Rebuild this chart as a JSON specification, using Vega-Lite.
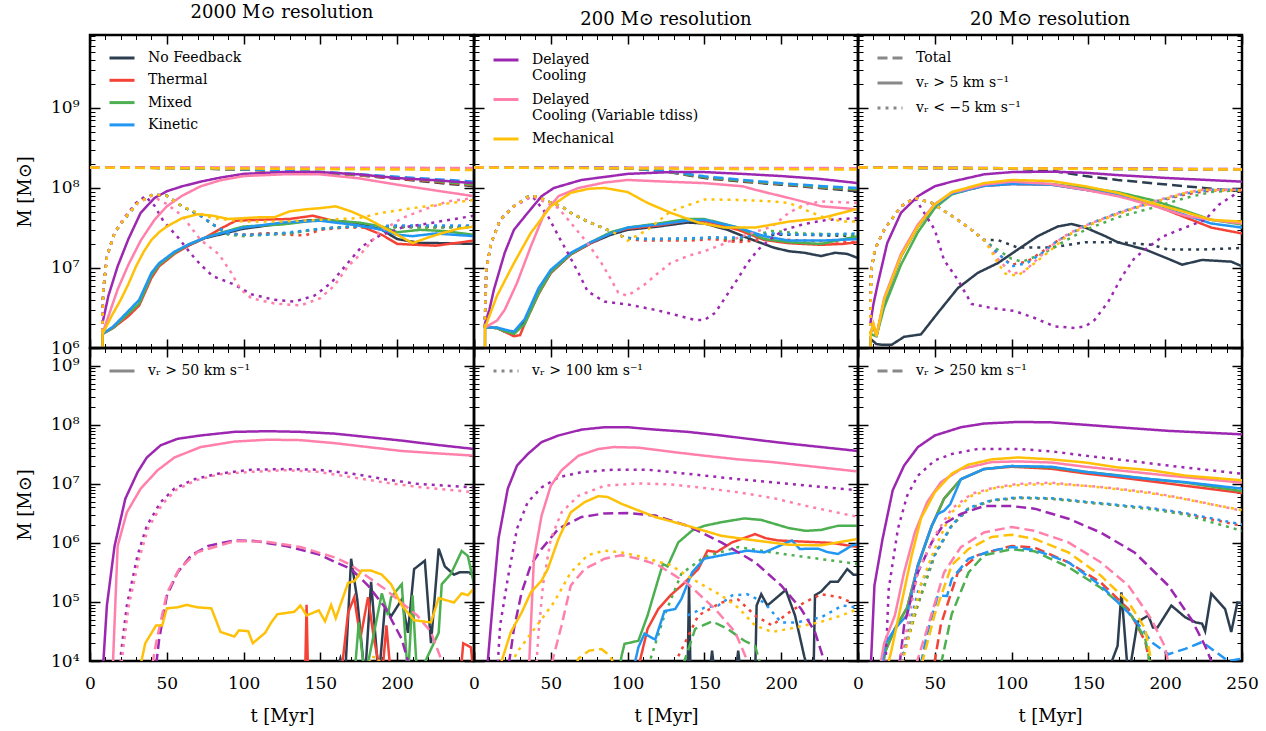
{
"$schema":"https://vega.github.io/schema/vega-lite/v6.json",
"padding":{"left":15,"top":2,"right":5,"bottom":5},
"config":{"font":"DejaVu Serif","view":{"stroke":"black","strokeWidth":2.5},
"axis":{"domain":false,"grid":false,"tickColor":"black","labelFont":"DejaVu Serif","labelFontSize":17,"labelColor":"black","titleFont":"DejaVu Serif","titleFontSize":18,"titleFontWeight":"normal","titleColor":"black","labelOverlap":false,"labelFlush":false},
"axisX":{"labelPadding":23,"titlePadding":12},
"axisY":{"labelPadding":21,"titlePadding":16},
"legend":{"labelFont":"DejaVu Serif","labelFontSize":14,"labelColor":"black","labelLimit":400,"symbolType":"stroke","symbolSize":625,"symbolStrokeWidth":3,"symbolOpacity":1,"labelOffset":12,"rowPadding":1.3}},
"datasets":{
"A":[
{"k":"Ne","t":0,"M":1.8e8},{"k":"Ne","t":50,"M":1.78e8},{"k":"Ne","t":100,"M":1.7e8},{"k":"Ne","t":150,"M":1.55e8},{"k":"Ne","t":175,"M":1.45e8},{"k":"Ne","t":200,"M":1.3e8},{"k":"Ne","t":225,"M":1.17e8},{"k":"Ne","t":250,"M":1.05e8},
{"k":"Ns","t":8,"M":1e5},{"k":"Ns","t":8.2,"M":1.5e6},{"k":"Ns","t":15,"M":1.78e6},{"k":"Ns","t":25,"M":2.6e6},{"k":"Ns","t":32,"M":3.5e6},{"k":"Ns","t":40,"M":7.9e6},{"k":"Ns","t":45,"M":1.1e7},{"k":"Ns","t":55,"M":1.55e7},{"k":"Ns","t":65,"M":1.95e7},{"k":"Ns","t":75,"M":2.37e7},{"k":"Ns","t":85,"M":2.63e7},{"k":"Ns","t":100,"M":3.1e7},{"k":"Ns","t":125,"M":3.6e7},{"k":"Ns","t":140,"M":3.9e7},{"k":"Ns","t":150,"M":4e7},{"k":"Ns","t":165,"M":3.8e7},{"k":"Ns","t":175,"M":3.6e7},{"k":"Ns","t":190,"M":3e7},{"k":"Ns","t":200,"M":2.3e7},{"k":"Ns","t":215,"M":2.05e7},{"k":"Ns","t":225,"M":2.05e7},{"k":"Ns","t":250,"M":2e7},
{"k":"Nd","t":8,"M":1.6e6},{"k":"Nd","t":8.5,"M":4.9e6},{"k":"Nd","t":11,"M":1.4e7},{"k":"Nd","t":16,"M":2.75e7},{"k":"Nd","t":22,"M":4e7},{"k":"Nd","t":31,"M":6.5e7},{"k":"Nd","t":41,"M":8.3e7},{"k":"Nd","t":50,"M":8e7},{"k":"Nd","t":60,"M":5.9e7},{"k":"Nd","t":72,"M":4.5e7},{"k":"Nd","t":80,"M":3.5e7},{"k":"Nd","t":90,"M":2.7e7},{"k":"Nd","t":100,"M":2.6e7},{"k":"Nd","t":115,"M":2.7e7},{"k":"Nd","t":130,"M":2.7e7},{"k":"Nd","t":145,"M":3e7},{"k":"Nd","t":160,"M":3.2e7},{"k":"Nd","t":180,"M":3.3e7},{"k":"Nd","t":200,"M":3.3e7},{"k":"Nd","t":225,"M":3.3e7},{"k":"Nd","t":250,"M":3.3e7},
{"k":"Te","t":0,"M":1.8e8},{"k":"Te","t":50,"M":1.78e8},{"k":"Te","t":100,"M":1.7e8},{"k":"Te","t":150,"M":1.56e8},{"k":"Te","t":200,"M":1.32e8},{"k":"Te","t":250,"M":1.08e8},
{"k":"Ts","t":8,"M":1.5e6},{"k":"Ts","t":15,"M":1.78e6},{"k":"Ts","t":25,"M":2.5e6},{"k":"Ts","t":32,"M":3.4e6},{"k":"Ts","t":40,"M":7.5e6},{"k":"Ts","t":45,"M":1.05e7},{"k":"Ts","t":55,"M":1.5e7},{"k":"Ts","t":65,"M":1.95e7},{"k":"Ts","t":75,"M":2.4e7},{"k":"Ts","t":85,"M":3.1e7},{"k":"Ts","t":95,"M":3.9e7},{"k":"Ts","t":110,"M":4e7},{"k":"Ts","t":130,"M":4.1e7},{"k":"Ts","t":145,"M":4.5e7},{"k":"Ts","t":160,"M":3.8e7},{"k":"Ts","t":175,"M":3.4e7},{"k":"Ts","t":190,"M":2.6e7},{"k":"Ts","t":200,"M":2e7},{"k":"Ts","t":225,"M":1.9e7},{"k":"Ts","t":250,"M":2.2e7},
{"k":"Td","t":8,"M":1.6e6},{"k":"Td","t":8.5,"M":4.9e6},{"k":"Td","t":11,"M":1.4e7},{"k":"Td","t":16,"M":2.75e7},{"k":"Td","t":22,"M":4e7},{"k":"Td","t":31,"M":6.5e7},{"k":"Td","t":41,"M":8.3e7},{"k":"Td","t":50,"M":8e7},{"k":"Td","t":60,"M":5.9e7},{"k":"Td","t":72,"M":4.5e7},{"k":"Td","t":80,"M":3.5e7},{"k":"Td","t":90,"M":2.7e7},{"k":"Td","t":100,"M":2.6e7},{"k":"Td","t":115,"M":2.7e7},{"k":"Td","t":130,"M":2.6e7},{"k":"Td","t":140,"M":2.55e7},{"k":"Td","t":150,"M":3e7},{"k":"Td","t":165,"M":3.2e7},{"k":"Td","t":180,"M":3.2e7},{"k":"Td","t":200,"M":3.3e7},{"k":"Td","t":225,"M":3.2e7},{"k":"Td","t":250,"M":3.3e7},
{"k":"Xe","t":0,"M":1.8e8},{"k":"Xe","t":50,"M":1.78e8},{"k":"Xe","t":100,"M":1.71e8},{"k":"Xe","t":150,"M":1.57e8},{"k":"Xe","t":200,"M":1.35e8},{"k":"Xe","t":250,"M":1.1e8},
{"k":"Xs","t":8,"M":1.5e6},{"k":"Xs","t":15,"M":1.8e6},{"k":"Xs","t":25,"M":2.7e6},{"k":"Xs","t":32,"M":3.6e6},{"k":"Xs","t":40,"M":8.1e6},{"k":"Xs","t":45,"M":1.1e7},{"k":"Xs","t":55,"M":1.55e7},{"k":"Xs","t":65,"M":2e7},{"k":"Xs","t":75,"M":2.4e7},{"k":"Xs","t":85,"M":2.75e7},{"k":"Xs","t":100,"M":3.3e7},{"k":"Xs","t":125,"M":3.5e7},{"k":"Xs","t":150,"M":4e7},{"k":"Xs","t":175,"M":3.7e7},{"k":"Xs","t":190,"M":3.3e7},{"k":"Xs","t":200,"M":2.8e7},{"k":"Xs","t":215,"M":3e7},{"k":"Xs","t":230,"M":2.9e7},{"k":"Xs","t":250,"M":2.6e7},
{"k":"Xd","t":8,"M":1.6e6},{"k":"Xd","t":8.5,"M":4.9e6},{"k":"Xd","t":11,"M":1.4e7},{"k":"Xd","t":16,"M":2.75e7},{"k":"Xd","t":22,"M":4e7},{"k":"Xd","t":31,"M":6.5e7},{"k":"Xd","t":41,"M":8.3e7},{"k":"Xd","t":50,"M":8e7},{"k":"Xd","t":60,"M":5.9e7},{"k":"Xd","t":72,"M":4.5e7},{"k":"Xd","t":80,"M":3.5e7},{"k":"Xd","t":90,"M":2.6e7},{"k":"Xd","t":100,"M":2.5e7},{"k":"Xd","t":115,"M":2.6e7},{"k":"Xd","t":130,"M":2.7e7},{"k":"Xd","t":150,"M":3.1e7},{"k":"Xd","t":170,"M":3.3e7},{"k":"Xd","t":200,"M":3.2e7},{"k":"Xd","t":225,"M":3.2e7},{"k":"Xd","t":250,"M":3.2e7},
{"k":"Ke","t":0,"M":1.8e8},{"k":"Ke","t":50,"M":1.79e8},{"k":"Ke","t":100,"M":1.72e8},{"k":"Ke","t":150,"M":1.6e8},{"k":"Ke","t":200,"M":1.38e8},{"k":"Ke","t":250,"M":1.2e8},
{"k":"Ks","t":8,"M":1.5e6},{"k":"Ks","t":15,"M":1.85e6},{"k":"Ks","t":25,"M":2.9e6},{"k":"Ks","t":32,"M":4e6},{"k":"Ks","t":40,"M":8.7e6},{"k":"Ks","t":45,"M":1.15e7},{"k":"Ks","t":55,"M":1.6e7},{"k":"Ks","t":65,"M":2e7},{"k":"Ks","t":75,"M":2.4e7},{"k":"Ks","t":85,"M":2.7e7},{"k":"Ks","t":100,"M":3.2e7},{"k":"Ks","t":125,"M":3.7e7},{"k":"Ks","t":150,"M":3.9e7},{"k":"Ks","t":175,"M":3.4e7},{"k":"Ks","t":190,"M":3e7},{"k":"Ks","t":200,"M":2.6e7},{"k":"Ks","t":210,"M":2.5e7},{"k":"Ks","t":225,"M":2.7e7},{"k":"Ks","t":250,"M":2.5e7},
{"k":"Kd","t":8,"M":1.6e6},{"k":"Kd","t":8.5,"M":4.9e6},{"k":"Kd","t":11,"M":1.4e7},{"k":"Kd","t":16,"M":2.75e7},{"k":"Kd","t":22,"M":4e7},{"k":"Kd","t":31,"M":6.5e7},{"k":"Kd","t":41,"M":8.3e7},{"k":"Kd","t":50,"M":8e7},{"k":"Kd","t":60,"M":5.9e7},{"k":"Kd","t":72,"M":4.5e7},{"k":"Kd","t":80,"M":3.5e7},{"k":"Kd","t":90,"M":2.7e7},{"k":"Kd","t":100,"M":2.6e7},{"k":"Kd","t":115,"M":2.6e7},{"k":"Kd","t":130,"M":2.8e7},{"k":"Kd","t":150,"M":3.1e7},{"k":"Kd","t":170,"M":3.3e7},{"k":"Kd","t":200,"M":3.4e7},{"k":"Kd","t":225,"M":3.4e7},{"k":"Kd","t":250,"M":3.4e7},
{"k":"De","t":0,"M":1.8e8},{"k":"De","t":100,"M":1.78e8},{"k":"De","t":250,"M":1.75e8},
{"k":"Ds","t":8,"M":2e6},{"k":"Ds","t":12,"M":4.5e6},{"k":"Ds","t":18,"M":1.05e7},{"k":"Ds","t":25,"M":2.3e7},{"k":"Ds","t":33,"M":4.9e7},{"k":"Ds","t":42,"M":7.5e7},{"k":"Ds","t":50,"M":9.1e7},{"k":"Ds","t":60,"M":1.05e8},{"k":"Ds","t":72,"M":1.2e8},{"k":"Ds","t":85,"M":1.35e8},{"k":"Ds","t":100,"M":1.5e8},{"k":"Ds","t":125,"M":1.58e8},{"k":"Ds","t":150,"M":1.58e8},{"k":"Ds","t":175,"M":1.48e8},{"k":"Ds","t":200,"M":1.33e8},{"k":"Ds","t":225,"M":1.25e8},{"k":"Ds","t":250,"M":1.15e8},
{"k":"Dd","t":8,"M":1.6e6},{"k":"Dd","t":8.5,"M":4.9e6},{"k":"Dd","t":11,"M":1.4e7},{"k":"Dd","t":16,"M":2.75e7},{"k":"Dd","t":22,"M":4.2e7},{"k":"Dd","t":30,"M":6.5e7},{"k":"Dd","t":36,"M":7.9e7},{"k":"Dd","t":42,"M":6e7},{"k":"Dd","t":48,"M":3.8e7},{"k":"Dd","t":57,"M":2.45e7},{"k":"Dd","t":66,"M":1.48e7},{"k":"Dd","t":72,"M":1.1e7},{"k":"Dd","t":80,"M":7.9e6},{"k":"Dd","t":94,"M":6.2e6},{"k":"Dd","t":105,"M":4.7e6},{"k":"Dd","t":120,"M":4e6},{"k":"Dd","t":133,"M":3.8e6},{"k":"Dd","t":146,"M":4.5e6},{"k":"Dd","t":157,"M":6.5e6},{"k":"Dd","t":166,"M":1.05e7},{"k":"Dd","t":177,"M":1.86e7},{"k":"Dd","t":188,"M":2.5e7},{"k":"Dd","t":203,"M":3.2e7},{"k":"Dd","t":220,"M":3.6e7},{"k":"Dd","t":250,"M":4.5e7},
{"k":"Ve","t":0,"M":1.8e8},{"k":"Ve","t":100,"M":1.8e8},{"k":"Ve","t":250,"M":1.78e8},
{"k":"Vs","t":8,"M":1.5e6},{"k":"Vs","t":12,"M":2.5e6},{"k":"Vs","t":18,"M":5.4e6},{"k":"Vs","t":25,"M":1.1e7},{"k":"Vs","t":33,"M":2.2e7},{"k":"Vs","t":42,"M":4e7},{"k":"Vs","t":50,"M":5.9e7},{"k":"Vs","t":60,"M":8e7},{"k":"Vs","t":72,"M":1.05e8},{"k":"Vs","t":85,"M":1.25e8},{"k":"Vs","t":100,"M":1.41e8},{"k":"Vs","t":125,"M":1.48e8},{"k":"Vs","t":150,"M":1.48e8},{"k":"Vs","t":175,"M":1.32e8},{"k":"Vs","t":200,"M":1.1e8},{"k":"Vs","t":225,"M":9.3e7},{"k":"Vs","t":250,"M":7.9e7},
{"k":"Vd","t":8,"M":1.6e6},{"k":"Vd","t":8.5,"M":4.9e6},{"k":"Vd","t":11,"M":1.4e7},{"k":"Vd","t":16,"M":2.75e7},{"k":"Vd","t":22,"M":4.2e7},{"k":"Vd","t":31,"M":6.5e7},{"k":"Vd","t":40,"M":8e7},{"k":"Vd","t":50,"M":6.3e7},{"k":"Vd","t":60,"M":4.5e7},{"k":"Vd","t":72,"M":2.24e7},{"k":"Vd","t":84,"M":1.48e7},{"k":"Vd","t":92,"M":8.7e6},{"k":"Vd","t":98,"M":5.4e6},{"k":"Vd","t":105,"M":4.2e6},{"k":"Vd","t":120,"M":3.6e6},{"k":"Vd","t":137,"M":3.4e6},{"k":"Vd","t":150,"M":4.2e6},{"k":"Vd","t":159,"M":6e6},{"k":"Vd","t":168,"M":1.05e7},{"k":"Vd","t":177,"M":1.55e7},{"k":"Vd","t":188,"M":2.75e7},{"k":"Vd","t":203,"M":4.2e7},{"k":"Vd","t":220,"M":5.6e7},{"k":"Vd","t":233,"M":6.8e7},{"k":"Vd","t":250,"M":7.5e7},
{"k":"Ce","t":0,"M":1.8e8},{"k":"Ce","t":100,"M":1.75e8},{"k":"Ce","t":250,"M":1.68e8},
{"k":"Cs","t":8,"M":1e5},{"k":"Cs","t":8.2,"M":1.5e6},{"k":"Cs","t":14,"M":2.5e6},{"k":"Cs","t":20,"M":4e6},{"k":"Cs","t":25,"M":6.3e6},{"k":"Cs","t":30,"M":1.05e7},{"k":"Cs","t":35,"M":1.6e7},{"k":"Cs","t":40,"M":2.24e7},{"k":"Cs","t":45,"M":2.8e7},{"k":"Cs","t":50,"M":3.3e7},{"k":"Cs","t":60,"M":4.2e7},{"k":"Cs","t":70,"M":4.7e7},{"k":"Cs","t":80,"M":4.5e7},{"k":"Cs","t":90,"M":4.1e7},{"k":"Cs","t":100,"M":4.2e7},{"k":"Cs","t":110,"M":4.3e7},{"k":"Cs","t":120,"M":4.3e7},{"k":"Cs","t":130,"M":5.1e7},{"k":"Cs","t":140,"M":5.4e7},{"k":"Cs","t":150,"M":5.6e7},{"k":"Cs","t":160,"M":5.9e7},{"k":"Cs","t":170,"M":5.1e7},{"k":"Cs","t":180,"M":4.2e7},{"k":"Cs","t":190,"M":3.3e7},{"k":"Cs","t":200,"M":2.6e7},{"k":"Cs","t":210,"M":2.05e7},{"k":"Cs","t":220,"M":2.4e7},{"k":"Cs","t":230,"M":2.75e7},{"k":"Cs","t":240,"M":3.1e7},{"k":"Cs","t":250,"M":3.3e7},
{"k":"Cd","t":8,"M":1.6e6},{"k":"Cd","t":8.5,"M":4.9e6},{"k":"Cd","t":11,"M":1.4e7},{"k":"Cd","t":16,"M":2.75e7},{"k":"Cd","t":22,"M":4e7},{"k":"Cd","t":31,"M":6.5e7},{"k":"Cd","t":41,"M":8.3e7},{"k":"Cd","t":50,"M":8e7},{"k":"Cd","t":60,"M":5.9e7},{"k":"Cd","t":70,"M":4.9e7},{"k":"Cd","t":80,"M":4.2e7},{"k":"Cd","t":100,"M":3.8e7},{"k":"Cd","t":125,"M":3.8e7},{"k":"Cd","t":150,"M":4e7},{"k":"Cd","t":175,"M":4.2e7},{"k":"Cd","t":190,"M":4.9e7},{"k":"Cd","t":210,"M":5.6e7},{"k":"Cd","t":230,"M":6.3e7},{"k":"Cd","t":250,"M":7.1e7}
],
"B":[
{"k":"Ne","t":0,"M":1.8e8},{"k":"Ne","t":50,"M":1.8e8},{"k":"Ne","t":100,"M":1.77e8},{"k":"Ne","t":125,"M":1.6e8},{"k":"Ne","t":150,"M":1.33e8},{"k":"Ne","t":175,"M":1.2e8},{"k":"Ne","t":200,"M":1.1e8},{"k":"Ne","t":225,"M":1e8},{"k":"Ne","t":250,"M":9.1e7},
{"k":"Ns","t":7,"M":1e5},{"k":"Ns","t":7.2,"M":1.8e6},{"k":"Ns","t":15,"M":1.78e6},{"k":"Ns","t":20,"M":1.6e6},{"k":"Ns","t":26,"M":1.5e6},{"k":"Ns","t":33,"M":2.1e6},{"k":"Ns","t":42,"M":4.9e6},{"k":"Ns","t":50,"M":8.7e6},{"k":"Ns","t":63,"M":1.48e7},{"k":"Ns","t":76,"M":2.04e7},{"k":"Ns","t":89,"M":2.6e7},{"k":"Ns","t":100,"M":3e7},{"k":"Ns","t":120,"M":3.3e7},{"k":"Ns","t":139,"M":3.7e7},{"k":"Ns","t":150,"M":3.6e7},{"k":"Ns","t":165,"M":3e7},{"k":"Ns","t":180,"M":2.3e7},{"k":"Ns","t":195,"M":1.8e7},{"k":"Ns","t":205,"M":1.62e7},{"k":"Ns","t":215,"M":1.55e7},{"k":"Ns","t":226,"M":1.41e7},{"k":"Ns","t":235,"M":1.55e7},{"k":"Ns","t":243,"M":1.5e7},{"k":"Ns","t":250,"M":1.33e7},
{"k":"Nd","t":7,"M":1.8e6},{"k":"Nd","t":8,"M":9.5e6},{"k":"Nd","t":11,"M":2e7},{"k":"Nd","t":17,"M":4e7},{"k":"Nd","t":26,"M":5.9e7},{"k":"Nd","t":35,"M":7.8e7},{"k":"Nd","t":41,"M":7.9e7},{"k":"Nd","t":48,"M":6.8e7},{"k":"Nd","t":57,"M":5.9e7},{"k":"Nd","t":63,"M":4.9e7},{"k":"Nd","t":74,"M":3.8e7},{"k":"Nd","t":87,"M":3e7},{"k":"Nd","t":98,"M":2.4e7},{"k":"Nd","t":108,"M":2.3e7},{"k":"Nd","t":120,"M":2.3e7},{"k":"Nd","t":140,"M":2.3e7},{"k":"Nd","t":155,"M":2.4e7},{"k":"Nd","t":172,"M":2.2e7},{"k":"Nd","t":194,"M":2.6e7},{"k":"Nd","t":215,"M":2.6e7},{"k":"Nd","t":250,"M":2.5e7},
{"k":"Te","t":0,"M":1.8e8},{"k":"Te","t":50,"M":1.8e8},{"k":"Te","t":100,"M":1.77e8},{"k":"Te","t":125,"M":1.62e8},{"k":"Te","t":150,"M":1.36e8},{"k":"Te","t":175,"M":1.22e8},{"k":"Te","t":200,"M":1.12e8},{"k":"Te","t":225,"M":1.02e8},{"k":"Te","t":250,"M":9.5e7},
{"k":"Ts","t":7,"M":1.8e6},{"k":"Ts","t":15,"M":1.78e6},{"k":"Ts","t":20,"M":1.6e6},{"k":"Ts","t":26,"M":1.4e6},{"k":"Ts","t":30,"M":1.45e6},{"k":"Ts","t":33,"M":2e6},{"k":"Ts","t":42,"M":4.7e6},{"k":"Ts","t":50,"M":8.7e6},{"k":"Ts","t":63,"M":1.48e7},{"k":"Ts","t":76,"M":2.04e7},{"k":"Ts","t":89,"M":2.75e7},{"k":"Ts","t":100,"M":3.1e7},{"k":"Ts","t":120,"M":3.4e7},{"k":"Ts","t":139,"M":3.9e7},{"k":"Ts","t":150,"M":3.9e7},{"k":"Ts","t":172,"M":3e7},{"k":"Ts","t":189,"M":2.24e7},{"k":"Ts","t":205,"M":2.04e7},{"k":"Ts","t":226,"M":1.95e7},{"k":"Ts","t":240,"M":2e7},{"k":"Ts","t":250,"M":2.1e7},
{"k":"Td","t":7,"M":1.8e6},{"k":"Td","t":8,"M":9.5e6},{"k":"Td","t":11,"M":2e7},{"k":"Td","t":17,"M":4e7},{"k":"Td","t":26,"M":5.9e7},{"k":"Td","t":35,"M":7.8e7},{"k":"Td","t":41,"M":7.9e7},{"k":"Td","t":48,"M":6.8e7},{"k":"Td","t":57,"M":5.9e7},{"k":"Td","t":63,"M":4.9e7},{"k":"Td","t":74,"M":3.8e7},{"k":"Td","t":87,"M":3e7},{"k":"Td","t":98,"M":2.4e7},{"k":"Td","t":108,"M":2.2e7},{"k":"Td","t":120,"M":2.2e7},{"k":"Td","t":140,"M":2.2e7},{"k":"Td","t":155,"M":2.3e7},{"k":"Td","t":172,"M":2.1e7},{"k":"Td","t":194,"M":2.3e7},{"k":"Td","t":215,"M":2.2e7},{"k":"Td","t":250,"M":2.1e7},
{"k":"Xe","t":0,"M":1.8e8},{"k":"Xe","t":50,"M":1.8e8},{"k":"Xe","t":100,"M":1.77e8},{"k":"Xe","t":125,"M":1.62e8},{"k":"Xe","t":150,"M":1.37e8},{"k":"Xe","t":175,"M":1.23e8},{"k":"Xe","t":200,"M":1.13e8},{"k":"Xe","t":225,"M":1.03e8},{"k":"Xe","t":250,"M":9.6e7},
{"k":"Xs","t":7,"M":1.8e6},{"k":"Xs","t":15,"M":1.78e6},{"k":"Xs","t":20,"M":1.62e6},{"k":"Xs","t":26,"M":1.5e6},{"k":"Xs","t":33,"M":2e6},{"k":"Xs","t":42,"M":4.8e6},{"k":"Xs","t":50,"M":8.9e6},{"k":"Xs","t":63,"M":1.5e7},{"k":"Xs","t":76,"M":2.1e7},{"k":"Xs","t":89,"M":2.8e7},{"k":"Xs","t":100,"M":3.2e7},{"k":"Xs","t":120,"M":3.6e7},{"k":"Xs","t":139,"M":4.1e7},{"k":"Xs","t":150,"M":4.1e7},{"k":"Xs","t":172,"M":3.2e7},{"k":"Xs","t":189,"M":2.3e7},{"k":"Xs","t":205,"M":2.1e7},{"k":"Xs","t":226,"M":2e7},{"k":"Xs","t":250,"M":2.5e7},
{"k":"Xd","t":7,"M":1.8e6},{"k":"Xd","t":8,"M":9.5e6},{"k":"Xd","t":11,"M":2e7},{"k":"Xd","t":17,"M":4e7},{"k":"Xd","t":26,"M":5.9e7},{"k":"Xd","t":35,"M":7.8e7},{"k":"Xd","t":41,"M":7.9e7},{"k":"Xd","t":48,"M":6.8e7},{"k":"Xd","t":57,"M":5.9e7},{"k":"Xd","t":63,"M":4.9e7},{"k":"Xd","t":74,"M":3.8e7},{"k":"Xd","t":87,"M":3e7},{"k":"Xd","t":98,"M":2.4e7},{"k":"Xd","t":108,"M":2.3e7},{"k":"Xd","t":120,"M":2.3e7},{"k":"Xd","t":140,"M":2.3e7},{"k":"Xd","t":155,"M":2.4e7},{"k":"Xd","t":172,"M":2.3e7},{"k":"Xd","t":194,"M":2.9e7},{"k":"Xd","t":215,"M":2.7e7},{"k":"Xd","t":250,"M":2.6e7},
{"k":"Ke","t":0,"M":1.8e8},{"k":"Ke","t":50,"M":1.8e8},{"k":"Ke","t":100,"M":1.78e8},{"k":"Ke","t":125,"M":1.64e8},{"k":"Ke","t":150,"M":1.4e8},{"k":"Ke","t":175,"M":1.26e8},{"k":"Ke","t":200,"M":1.15e8},{"k":"Ke","t":225,"M":1.06e8},{"k":"Ke","t":250,"M":1e8},
{"k":"Ks","t":7,"M":1.8e6},{"k":"Ks","t":15,"M":1.8e6},{"k":"Ks","t":20,"M":1.7e6},{"k":"Ks","t":26,"M":1.6e6},{"k":"Ks","t":33,"M":2.3e6},{"k":"Ks","t":42,"M":5.6e6},{"k":"Ks","t":50,"M":9.5e6},{"k":"Ks","t":63,"M":1.55e7},{"k":"Ks","t":76,"M":2.1e7},{"k":"Ks","t":89,"M":2.7e7},{"k":"Ks","t":100,"M":3.2e7},{"k":"Ks","t":120,"M":3.5e7},{"k":"Ks","t":139,"M":3.9e7},{"k":"Ks","t":150,"M":4e7},{"k":"Ks","t":172,"M":3.2e7},{"k":"Ks","t":189,"M":2.5e7},{"k":"Ks","t":205,"M":2.2e7},{"k":"Ks","t":226,"M":2.2e7},{"k":"Ks","t":250,"M":2.3e7},
{"k":"Kd","t":7,"M":1.8e6},{"k":"Kd","t":8,"M":9.5e6},{"k":"Kd","t":11,"M":2e7},{"k":"Kd","t":17,"M":4e7},{"k":"Kd","t":26,"M":5.9e7},{"k":"Kd","t":35,"M":7.8e7},{"k":"Kd","t":41,"M":7.9e7},{"k":"Kd","t":48,"M":6.8e7},{"k":"Kd","t":57,"M":5.9e7},{"k":"Kd","t":63,"M":4.9e7},{"k":"Kd","t":74,"M":3.8e7},{"k":"Kd","t":87,"M":3e7},{"k":"Kd","t":98,"M":2.4e7},{"k":"Kd","t":108,"M":2.3e7},{"k":"Kd","t":120,"M":2.3e7},{"k":"Kd","t":140,"M":2.35e7},{"k":"Kd","t":155,"M":2.4e7},{"k":"Kd","t":172,"M":2.4e7},{"k":"Kd","t":194,"M":2.7e7},{"k":"Kd","t":215,"M":2.6e7},{"k":"Kd","t":250,"M":2.7e7},
{"k":"De","t":0,"M":1.8e8},{"k":"De","t":250,"M":1.75e8},
{"k":"Ds","t":7,"M":2e6},{"k":"Ds","t":10,"M":3e6},{"k":"Ds","t":13,"M":5.4e6},{"k":"Ds","t":20,"M":1.55e7},{"k":"Ds","t":26,"M":3e7},{"k":"Ds","t":35,"M":4.9e7},{"k":"Ds","t":44,"M":7.9e7},{"k":"Ds","t":52,"M":1e8},{"k":"Ds","t":70,"M":1.26e8},{"k":"Ds","t":100,"M":1.5e8},{"k":"Ds","t":128,"M":1.58e8},{"k":"Ds","t":150,"M":1.58e8},{"k":"Ds","t":175,"M":1.5e8},{"k":"Ds","t":200,"M":1.41e8},{"k":"Ds","t":225,"M":1.3e8},{"k":"Ds","t":250,"M":1.15e8},
{"k":"Dd","t":7,"M":1.8e6},{"k":"Dd","t":8,"M":9.5e6},{"k":"Dd","t":11,"M":2e7},{"k":"Dd","t":17,"M":4e7},{"k":"Dd","t":26,"M":5.9e7},{"k":"Dd","t":38,"M":7.9e7},{"k":"Dd","t":48,"M":4.5e7},{"k":"Dd","t":55,"M":2.5e7},{"k":"Dd","t":61,"M":1.55e7},{"k":"Dd","t":68,"M":8.7e6},{"k":"Dd","t":74,"M":5.1e6},{"k":"Dd","t":85,"M":3.8e6},{"k":"Dd","t":100,"M":3.5e6},{"k":"Dd","t":118,"M":3e6},{"k":"Dd","t":131,"M":2.6e6},{"k":"Dd","t":144,"M":2.24e6},{"k":"Dd","t":150,"M":2.24e6},{"k":"Dd","t":157,"M":2.75e6},{"k":"Dd","t":165,"M":4.7e6},{"k":"Dd","t":172,"M":7.5e6},{"k":"Dd","t":178,"M":1.15e7},{"k":"Dd","t":185,"M":1.7e7},{"k":"Dd","t":194,"M":2.37e7},{"k":"Dd","t":202,"M":3e7},{"k":"Dd","t":215,"M":3.55e7},{"k":"Dd","t":230,"M":4e7},{"k":"Dd","t":250,"M":4.2e7},
{"k":"Ve","t":0,"M":1.8e8},{"k":"Ve","t":250,"M":1.77e8},
{"k":"Vs","t":7,"M":1.8e6},{"k":"Vs","t":15,"M":2.2e6},{"k":"Vs","t":20,"M":3e6},{"k":"Vs","t":28,"M":6.5e6},{"k":"Vs","t":37,"M":1.86e7},{"k":"Vs","t":46,"M":4.9e7},{"k":"Vs","t":55,"M":7.9e7},{"k":"Vs","t":68,"M":1e8},{"k":"Vs","t":85,"M":1.17e8},{"k":"Vs","t":100,"M":1.26e8},{"k":"Vs","t":125,"M":1.2e8},{"k":"Vs","t":150,"M":1.15e8},{"k":"Vs","t":175,"M":1.05e8},{"k":"Vs","t":183,"M":9.5e7},{"k":"Vs","t":205,"M":7.5e7},{"k":"Vs","t":226,"M":5.9e7},{"k":"Vs","t":250,"M":5.4e7},
{"k":"Vd","t":7,"M":1.8e6},{"k":"Vd","t":8,"M":9.5e6},{"k":"Vd","t":11,"M":2e7},{"k":"Vd","t":17,"M":4e7},{"k":"Vd","t":26,"M":5.9e7},{"k":"Vd","t":38,"M":7.9e7},{"k":"Vd","t":55,"M":5.6e7},{"k":"Vd","t":65,"M":3.3e7},{"k":"Vd","t":74,"M":2.04e7},{"k":"Vd","t":83,"M":1.15e7},{"k":"Vd","t":88,"M":7.9e6},{"k":"Vd","t":94,"M":4.9e6},{"k":"Vd","t":100,"M":4.5e6},{"k":"Vd","t":111,"M":6.2e6},{"k":"Vd","t":120,"M":8.7e6},{"k":"Vd","t":128,"M":1.15e7},{"k":"Vd","t":139,"M":1.41e7},{"k":"Vd","t":150,"M":1.62e7},{"k":"Vd","t":161,"M":1.95e7},{"k":"Vd","t":172,"M":2.4e7},{"k":"Vd","t":194,"M":3.3e7},{"k":"Vd","t":205,"M":4.9e7},{"k":"Vd","t":215,"M":6.2e7},{"k":"Vd","t":226,"M":6.8e7},{"k":"Vd","t":250,"M":6.5e7},
{"k":"Ce","t":0,"M":1.8e8},{"k":"Ce","t":250,"M":1.7e8},
{"k":"Cs","t":7,"M":1e5},{"k":"Cs","t":7.2,"M":1.8e6},{"k":"Cs","t":15,"M":4.5e6},{"k":"Cs","t":26,"M":1.15e7},{"k":"Cs","t":37,"M":2.75e7},{"k":"Cs","t":50,"M":5.9e7},{"k":"Cs","t":63,"M":8.7e7},{"k":"Cs","t":75,"M":9.8e7},{"k":"Cs","t":85,"M":1e8},{"k":"Cs","t":100,"M":8.9e7},{"k":"Cs","t":113,"M":6.5e7},{"k":"Cs","t":128,"M":4.9e7},{"k":"Cs","t":146,"M":3.7e7},{"k":"Cs","t":163,"M":3.2e7},{"k":"Cs","t":183,"M":3.2e7},{"k":"Cs","t":205,"M":3.8e7},{"k":"Cs","t":226,"M":4.2e7},{"k":"Cs","t":250,"M":5.5e7},
{"k":"Cd","t":7,"M":1.8e6},{"k":"Cd","t":8,"M":9.5e6},{"k":"Cd","t":11,"M":2e7},{"k":"Cd","t":17,"M":4e7},{"k":"Cd","t":26,"M":5.9e7},{"k":"Cd","t":35,"M":7.8e7},{"k":"Cd","t":41,"M":7.9e7},{"k":"Cd","t":48,"M":6.8e7},{"k":"Cd","t":57,"M":5.9e7},{"k":"Cd","t":63,"M":4.9e7},{"k":"Cd","t":74,"M":3.8e7},{"k":"Cd","t":87,"M":3e7},{"k":"Cd","t":98,"M":2.4e7},{"k":"Cd","t":100,"M":2.2e7},{"k":"Cd","t":113,"M":3e7},{"k":"Cd","t":128,"M":5.1e7},{"k":"Cd","t":150,"M":7.2e7},{"k":"Cd","t":172,"M":7.1e7},{"k":"Cd","t":194,"M":6.8e7},{"k":"Cd","t":205,"M":6.5e7},{"k":"Cd","t":215,"M":5.4e7},{"k":"Cd","t":226,"M":4.4e7},{"k":"Cd","t":240,"M":3.8e7},{"k":"Cd","t":250,"M":3.8e7}
],
"C":[
{"k":"Ne","t":0,"M":1.8e8},{"k":"Ne","t":100,"M":1.75e8},{"k":"Ne","t":125,"M":1.65e8},{"k":"Ne","t":148,"M":1.41e8},{"k":"Ne","t":169,"M":1.26e8},{"k":"Ne","t":202,"M":1.1e8},{"k":"Ne","t":225,"M":1e8},{"k":"Ne","t":250,"M":9.1e7},
{"k":"Ns","t":8,"M":1e5},{"k":"Ns","t":8.2,"M":1.3e6},{"k":"Ns","t":12,"M":1.12e6},{"k":"Ns","t":15,"M":1.1e6},{"k":"Ns","t":22,"M":1.1e6},{"k":"Ns","t":30,"M":1.38e6},{"k":"Ns","t":41,"M":1.48e6},{"k":"Ns","t":52,"M":2.75e6},{"k":"Ns","t":65,"M":5.6e6},{"k":"Ns","t":78,"M":8.7e6},{"k":"Ns","t":91,"M":1.15e7},{"k":"Ns","t":104,"M":1.7e7},{"k":"Ns","t":117,"M":2.5e7},{"k":"Ns","t":130,"M":3.3e7},{"k":"Ns","t":139,"M":3.55e7},{"k":"Ns","t":148,"M":3.2e7},{"k":"Ns","t":161,"M":2.5e7},{"k":"Ns","t":169,"M":2.1e7},{"k":"Ns","t":187,"M":1.7e7},{"k":"Ns","t":200,"M":1.35e7},{"k":"Ns","t":211,"M":1.1e7},{"k":"Ns","t":224,"M":1.26e7},{"k":"Ns","t":243,"M":1.2e7},{"k":"Ns","t":250,"M":1.05e7},
{"k":"Nd","t":8,"M":1.5e6},{"k":"Nd","t":8.5,"M":9e6},{"k":"Nd","t":11,"M":1.7e7},{"k":"Nd","t":17,"M":3e7},{"k":"Nd","t":28,"M":5.9e7},{"k":"Nd","t":37,"M":7.5e7},{"k":"Nd","t":48,"M":6.5e7},{"k":"Nd","t":61,"M":4.5e7},{"k":"Nd","t":72,"M":3.2e7},{"k":"Nd","t":82,"M":2.24e7},{"k":"Nd","t":91,"M":2.24e7},{"k":"Nd","t":104,"M":1.8e7},{"k":"Nd","t":126,"M":1.8e7},{"k":"Nd","t":148,"M":2.1e7},{"k":"Nd","t":169,"M":2.1e7},{"k":"Nd","t":191,"M":1.95e7},{"k":"Nd","t":202,"M":1.7e7},{"k":"Nd","t":224,"M":1.7e7},{"k":"Nd","t":250,"M":1.78e7},
{"k":"Te","t":0,"M":1.8e8},{"k":"Te","t":250,"M":1.7e8},
{"k":"Ts","t":8,"M":1.5e6},{"k":"Ts","t":10,"M":1.9e6},{"k":"Ts","t":12,"M":1.4e6},{"k":"Ts","t":17,"M":3.8e6},{"k":"Ts","t":28,"M":1.4e7},{"k":"Ts","t":39,"M":3.3e7},{"k":"Ts","t":50,"M":6e7},{"k":"Ts","t":61,"M":8.5e7},{"k":"Ts","t":82,"M":1.06e8},{"k":"Ts","t":100,"M":1.12e8},{"k":"Ts","t":126,"M":1.1e8},{"k":"Ts","t":148,"M":9.5e7},{"k":"Ts","t":169,"M":8.2e7},{"k":"Ts","t":191,"M":6.3e7},{"k":"Ts","t":213,"M":4.3e7},{"k":"Ts","t":230,"M":3.2e7},{"k":"Ts","t":250,"M":2.7e7},
{"k":"Td","t":8,"M":1.5e6},{"k":"Td","t":8.5,"M":9e6},{"k":"Td","t":11,"M":1.7e7},{"k":"Td","t":17,"M":3e7},{"k":"Td","t":28,"M":5.9e7},{"k":"Td","t":37,"M":7.5e7},{"k":"Td","t":48,"M":6.5e7},{"k":"Td","t":61,"M":4.5e7},{"k":"Td","t":72,"M":3.2e7},{"k":"Td","t":82,"M":2.24e7},{"k":"Td","t":87,"M":1.8e7},{"k":"Td","t":95,"M":1.3e7},{"k":"Td","t":100,"M":1.1e7},{"k":"Td","t":110,"M":1.2e7},{"k":"Td","t":120,"M":1.6e7},{"k":"Td","t":130,"M":2.2e7},{"k":"Td","t":148,"M":3.3e7},{"k":"Td","t":169,"M":4.8e7},{"k":"Td","t":191,"M":6.5e7},{"k":"Td","t":213,"M":8.3e7},{"k":"Td","t":230,"M":9.3e7},{"k":"Td","t":250,"M":9.5e7},
{"k":"Xe","t":0,"M":1.8e8},{"k":"Xe","t":250,"M":1.7e8},
{"k":"Xs","t":8,"M":1.5e6},{"k":"Xs","t":12,"M":1.4e6},{"k":"Xs","t":17,"M":3.2e6},{"k":"Xs","t":28,"M":1.1e7},{"k":"Xs","t":39,"M":2.8e7},{"k":"Xs","t":50,"M":5.6e7},{"k":"Xs","t":61,"M":8.3e7},{"k":"Xs","t":82,"M":1.08e8},{"k":"Xs","t":100,"M":1.15e8},{"k":"Xs","t":126,"M":1.12e8},{"k":"Xs","t":148,"M":1e8},{"k":"Xs","t":169,"M":8.9e7},{"k":"Xs","t":191,"M":7.1e7},{"k":"Xs","t":213,"M":5.2e7},{"k":"Xs","t":230,"M":4e7},{"k":"Xs","t":250,"M":3.5e7},
{"k":"Xd","t":8,"M":1.5e6},{"k":"Xd","t":8.5,"M":9e6},{"k":"Xd","t":11,"M":1.7e7},{"k":"Xd","t":17,"M":3e7},{"k":"Xd","t":28,"M":5.9e7},{"k":"Xd","t":37,"M":7.5e7},{"k":"Xd","t":48,"M":6.5e7},{"k":"Xd","t":61,"M":4.5e7},{"k":"Xd","t":72,"M":3.2e7},{"k":"Xd","t":82,"M":2.24e7},{"k":"Xd","t":87,"M":1.9e7},{"k":"Xd","t":100,"M":1.3e7},{"k":"Xd","t":107,"M":1.2e7},{"k":"Xd","t":120,"M":1.5e7},{"k":"Xd","t":137,"M":2.3e7},{"k":"Xd","t":148,"M":3e7},{"k":"Xd","t":169,"M":4.3e7},{"k":"Xd","t":191,"M":5.6e7},{"k":"Xd","t":213,"M":7.5e7},{"k":"Xd","t":230,"M":8.9e7},{"k":"Xd","t":250,"M":9.5e7},
{"k":"Ke","t":0,"M":1.8e8},{"k":"Ke","t":250,"M":1.7e8},
{"k":"Ks","t":8,"M":1.5e6},{"k":"Ks","t":10,"M":1.9e6},{"k":"Ks","t":12,"M":1.4e6},{"k":"Ks","t":17,"M":3.8e6},{"k":"Ks","t":28,"M":1.4e7},{"k":"Ks","t":39,"M":3.3e7},{"k":"Ks","t":50,"M":6e7},{"k":"Ks","t":61,"M":8.5e7},{"k":"Ks","t":82,"M":1.06e8},{"k":"Ks","t":100,"M":1.12e8},{"k":"Ks","t":126,"M":1.1e8},{"k":"Ks","t":148,"M":9.5e7},{"k":"Ks","t":169,"M":8.2e7},{"k":"Ks","t":191,"M":6.3e7},{"k":"Ks","t":213,"M":4.6e7},{"k":"Ks","t":230,"M":3.6e7},{"k":"Ks","t":250,"M":3.2e7},
{"k":"Kd","t":8,"M":1.5e6},{"k":"Kd","t":8.5,"M":9e6},{"k":"Kd","t":11,"M":1.7e7},{"k":"Kd","t":17,"M":3e7},{"k":"Kd","t":28,"M":5.9e7},{"k":"Kd","t":37,"M":7.5e7},{"k":"Kd","t":48,"M":6.5e7},{"k":"Kd","t":61,"M":4.5e7},{"k":"Kd","t":72,"M":3.2e7},{"k":"Kd","t":82,"M":2.24e7},{"k":"Kd","t":87,"M":1.8e7},{"k":"Kd","t":95,"M":1.3e7},{"k":"Kd","t":100,"M":1.05e7},{"k":"Kd","t":110,"M":1.15e7},{"k":"Kd","t":120,"M":1.55e7},{"k":"Kd","t":130,"M":2.2e7},{"k":"Kd","t":148,"M":3.4e7},{"k":"Kd","t":169,"M":4.9e7},{"k":"Kd","t":191,"M":6.6e7},{"k":"Kd","t":213,"M":8.5e7},{"k":"Kd","t":230,"M":9.5e7},{"k":"Kd","t":250,"M":9.5e7},
{"k":"De","t":0,"M":1.8e8},{"k":"De","t":250,"M":1.72e8},
{"k":"Ds","t":8,"M":2e6},{"k":"Ds","t":10,"M":3.5e6},{"k":"Ds","t":13,"M":6.5e6},{"k":"Ds","t":19,"M":2.04e7},{"k":"Ds","t":28,"M":4.9e7},{"k":"Ds","t":39,"M":7.9e7},{"k":"Ds","t":50,"M":1.05e8},{"k":"Ds","t":61,"M":1.2e8},{"k":"Ds","t":82,"M":1.48e8},{"k":"Ds","t":100,"M":1.58e8},{"k":"Ds","t":126,"M":1.6e8},{"k":"Ds","t":148,"M":1.55e8},{"k":"Ds","t":169,"M":1.45e8},{"k":"Ds","t":202,"M":1.33e8},{"k":"Ds","t":250,"M":1.2e8},
{"k":"Dd","t":8,"M":1.5e6},{"k":"Dd","t":8.5,"M":9e6},{"k":"Dd","t":11,"M":1.7e7},{"k":"Dd","t":17,"M":3e7},{"k":"Dd","t":28,"M":5.9e7},{"k":"Dd","t":37,"M":7.5e7},{"k":"Dd","t":50,"M":3e7},{"k":"Dd","t":56,"M":1.26e7},{"k":"Dd","t":65,"M":7.1e6},{"k":"Dd","t":74,"M":3.55e6},{"k":"Dd","t":87,"M":3.16e6},{"k":"Dd","t":102,"M":2.9e6},{"k":"Dd","t":115,"M":2.37e6},{"k":"Dd","t":128,"M":1.86e6},{"k":"Dd","t":141,"M":1.78e6},{"k":"Dd","t":148,"M":1.86e6},{"k":"Dd","t":154,"M":2.24e6},{"k":"Dd","t":163,"M":3.8e6},{"k":"Dd","t":172,"M":7.9e6},{"k":"Dd","t":180,"M":1.33e7},{"k":"Dd","t":187,"M":1.7e7},{"k":"Dd","t":198,"M":2.45e7},{"k":"Dd","t":211,"M":3.1e7},{"k":"Dd","t":226,"M":4e7},{"k":"Dd","t":235,"M":6.2e7},{"k":"Dd","t":250,"M":9.5e7},
{"k":"Ve","t":0,"M":1.8e8},{"k":"Ve","t":250,"M":1.71e8},
{"k":"Vs","t":8,"M":1.5e6},{"k":"Vs","t":10,"M":2e6},{"k":"Vs","t":12,"M":1.4e6},{"k":"Vs","t":17,"M":4.2e6},{"k":"Vs","t":28,"M":1.5e7},{"k":"Vs","t":39,"M":3.5e7},{"k":"Vs","t":50,"M":6.3e7},{"k":"Vs","t":61,"M":8.7e7},{"k":"Vs","t":82,"M":1.1e8},{"k":"Vs","t":100,"M":1.2e8},{"k":"Vs","t":126,"M":1.12e8},{"k":"Vs","t":148,"M":9.5e7},{"k":"Vs","t":169,"M":7.9e7},{"k":"Vs","t":191,"M":6.1e7},{"k":"Vs","t":213,"M":4.5e7},{"k":"Vs","t":230,"M":4e7},{"k":"Vs","t":250,"M":3.6e7},
{"k":"Vd","t":8,"M":1.5e6},{"k":"Vd","t":8.5,"M":9e6},{"k":"Vd","t":11,"M":1.7e7},{"k":"Vd","t":17,"M":3e7},{"k":"Vd","t":28,"M":5.9e7},{"k":"Vd","t":37,"M":7.5e7},{"k":"Vd","t":48,"M":6.5e7},{"k":"Vd","t":61,"M":4.5e7},{"k":"Vd","t":72,"M":3.2e7},{"k":"Vd","t":82,"M":2.24e7},{"k":"Vd","t":87,"M":1.7e7},{"k":"Vd","t":91,"M":1.3e7},{"k":"Vd","t":100,"M":8.5e6},{"k":"Vd","t":108,"M":9e6},{"k":"Vd","t":115,"M":1.2e7},{"k":"Vd","t":126,"M":1.9e7},{"k":"Vd","t":137,"M":2.7e7},{"k":"Vd","t":148,"M":3.4e7},{"k":"Vd","t":159,"M":4.1e7},{"k":"Vd","t":169,"M":4.8e7},{"k":"Vd","t":180,"M":5.7e7},{"k":"Vd","t":191,"M":6.6e7},{"k":"Vd","t":202,"M":7.7e7},{"k":"Vd","t":213,"M":8.7e7},{"k":"Vd","t":225,"M":9.5e7},{"k":"Vd","t":250,"M":9.5e7},
{"k":"Ce","t":0,"M":1.8e8},{"k":"Ce","t":250,"M":1.7e8},
{"k":"Cs","t":8,"M":1e5},{"k":"Cs","t":8.2,"M":1.5e6},{"k":"Cs","t":10,"M":2e6},{"k":"Cs","t":12,"M":1.4e6},{"k":"Cs","t":17,"M":4e6},{"k":"Cs","t":28,"M":1.41e7},{"k":"Cs","t":39,"M":3.3e7},{"k":"Cs","t":50,"M":6.2e7},{"k":"Cs","t":61,"M":8.9e7},{"k":"Cs","t":82,"M":1.15e8},{"k":"Cs","t":100,"M":1.26e8},{"k":"Cs","t":126,"M":1.22e8},{"k":"Cs","t":148,"M":1.05e8},{"k":"Cs","t":169,"M":8.7e7},{"k":"Cs","t":191,"M":6.5e7},{"k":"Cs","t":213,"M":5e7},{"k":"Cs","t":230,"M":4e7},{"k":"Cs","t":250,"M":3.8e7},
{"k":"Cd","t":8,"M":1.5e6},{"k":"Cd","t":8.5,"M":9e6},{"k":"Cd","t":11,"M":1.7e7},{"k":"Cd","t":17,"M":3e7},{"k":"Cd","t":28,"M":5.9e7},{"k":"Cd","t":37,"M":7.5e7},{"k":"Cd","t":48,"M":6.5e7},{"k":"Cd","t":61,"M":4.5e7},{"k":"Cd","t":72,"M":3.2e7},{"k":"Cd","t":82,"M":2.24e7},{"k":"Cd","t":87,"M":1.6e7},{"k":"Cd","t":91,"M":1.15e7},{"k":"Cd","t":96,"M":8.5e6},{"k":"Cd","t":104,"M":8e6},{"k":"Cd","t":115,"M":1.15e7},{"k":"Cd","t":126,"M":1.7e7},{"k":"Cd","t":137,"M":2.6e7},{"k":"Cd","t":148,"M":3.3e7},{"k":"Cd","t":159,"M":4e7},{"k":"Cd","t":169,"M":4.7e7},{"k":"Cd","t":180,"M":5.6e7},{"k":"Cd","t":191,"M":6.5e7},{"k":"Cd","t":202,"M":7.5e7},{"k":"Cd","t":213,"M":8.7e7},{"k":"Cd","t":225,"M":9.5e7},{"k":"Cd","t":250,"M":9.3e7}
],
"D":[
{"k":"Ns","t":159,"M":5e3},{"k":"Ns","t":163,"M":1.1e4},{"k":"Ns","t":166,"M":5e3},{"k":"Ns","t":170,"M":5.4e5},{"k":"Ns","t":174,"M":1.1e5},{"k":"Ns","t":179,"M":5e3},{"k":"Ns","t":183,"M":2.2e5},{"k":"Ns","t":188,"M":5e3},{"k":"Ns","t":192,"M":8.3e4},{"k":"Ns","t":196,"M":5.7e4},{"k":"Ns","t":203,"M":1.1e5},{"k":"Ns","t":207,"M":3e4},{"k":"Ns","t":211,"M":3.6e5},{"k":"Ns","t":218,"M":5e5},{"k":"Ns","t":222,"M":2e4},{"k":"Ns","t":227,"M":8e5},{"k":"Ns","t":231,"M":4e5},{"k":"Ns","t":237,"M":2.9e5},{"k":"Ns","t":241,"M":3.2e5},{"k":"Ns","t":246,"M":3.2e5},{"k":"Ns","t":250,"M":3e5},
{"k":"Ts","t":140,"M":5e3},{"k":"Ts","t":141,"M":9e4},{"k":"Ts","t":142,"M":5e3},{"k":"Ts","t":163,"M":5e3},{"k":"Ts","t":165,"M":1.3e4},{"k":"Ts","t":168,"M":6.5e4},{"k":"Ts","t":172,"M":1.2e5},{"k":"Ts","t":176,"M":2.4e4},{"k":"Ts","t":181,"M":1.2e5},{"k":"Ts","t":185,"M":2.24e4},{"k":"Ts","t":190,"M":5e3},{"k":"Ts","t":193,"M":4e4},{"k":"Ts","t":196,"M":5e3},{"k":"Ts","t":241,"M":5e3},{"k":"Ts","t":243,"M":2e4},{"k":"Ts","t":248,"M":1.7e4},{"k":"Ts","t":250,"M":5e3},
{"k":"Xs","t":172,"M":5e3},{"k":"Xs","t":175,"M":4.5e4},{"k":"Xs","t":179,"M":5e3},{"k":"Xs","t":190,"M":1.4e5},{"k":"Xs","t":194,"M":6e4},{"k":"Xs","t":196,"M":1.2e5},{"k":"Xs","t":203,"M":2e5},{"k":"Xs","t":207,"M":5e3},{"k":"Xs","t":210,"M":1.3e5},{"k":"Xs","t":213,"M":5e3},{"k":"Xs","t":227,"M":3e4},{"k":"Xs","t":229,"M":2e5},{"k":"Xs","t":235,"M":3e5},{"k":"Xs","t":242,"M":7.3e5},{"k":"Xs","t":246,"M":6e5},{"k":"Xs","t":250,"M":2e5},
{"k":"Ds","t":8,"M":5e3},{"k":"Ds","t":11,"M":8.7e4},{"k":"Ds","t":16,"M":8.9e5},{"k":"Ds","t":23,"M":5.6e6},{"k":"Ds","t":31,"M":1.58e7},{"k":"Ds","t":37,"M":2.8e7},{"k":"Ds","t":46,"M":4.5e7},{"k":"Ds","t":57,"M":5.8e7},{"k":"Ds","t":72,"M":6.6e7},{"k":"Ds","t":94,"M":7.6e7},{"k":"Ds","t":116,"M":7.8e7},{"k":"Ds","t":137,"M":7.6e7},{"k":"Ds","t":159,"M":7.1e7},{"k":"Ds","t":181,"M":6.2e7},{"k":"Ds","t":203,"M":5.4e7},{"k":"Ds","t":225,"M":4.6e7},{"k":"Ds","t":250,"M":3.9e7},
{"k":"Dd","t":19,"M":5e3},{"k":"Dd","t":20,"M":1.23e4},{"k":"Dd","t":24,"M":8.7e4},{"k":"Dd","t":31,"M":6.2e5},{"k":"Dd","t":37,"M":1.95e6},{"k":"Dd","t":46,"M":4.9e6},{"k":"Dd","t":55,"M":8.3e6},{"k":"Dd","t":68,"M":1.2e7},{"k":"Dd","t":83,"M":1.48e7},{"k":"Dd","t":105,"M":1.74e7},{"k":"Dd","t":127,"M":1.78e7},{"k":"Dd","t":148,"M":1.74e7},{"k":"Dd","t":170,"M":1.5e7},{"k":"Dd","t":192,"M":1.2e7},{"k":"Dd","t":213,"M":1e7},{"k":"Dd","t":250,"M":8.7e6},
{"k":"De","t":42,"M":5e3},{"k":"De","t":45,"M":2.3e4},{"k":"De","t":50,"M":1.26e5},{"k":"De","t":57,"M":3.16e5},{"k":"De","t":66,"M":6.2e5},{"k":"De","t":77,"M":8.9e5},{"k":"De","t":94,"M":1.1e6},{"k":"De","t":107,"M":1.08e6},{"k":"De","t":127,"M":8.9e5},{"k":"De","t":148,"M":6.5e5},{"k":"De","t":170,"M":3.6e5},{"k":"De","t":181,"M":1.9e5},{"k":"De","t":192,"M":8.1e4},{"k":"De","t":203,"M":2.34e4},{"k":"De","t":207,"M":1e4},{"k":"De","t":209,"M":5e3},
{"k":"Vs","t":14,"M":5e3},{"k":"Vs","t":15,"M":1e4},{"k":"Vs","t":18,"M":8.9e5},{"k":"Vs","t":24,"M":3.3e6},{"k":"Vs","t":33,"M":8.3e6},{"k":"Vs","t":44,"M":1.7e7},{"k":"Vs","t":55,"M":2.8e7},{"k":"Vs","t":72,"M":4.2e7},{"k":"Vs","t":94,"M":5.2e7},{"k":"Vs","t":116,"M":5.6e7},{"k":"Vs","t":137,"M":5.5e7},{"k":"Vs","t":159,"M":4.9e7},{"k":"Vs","t":181,"M":4.2e7},{"k":"Vs","t":203,"M":3.6e7},{"k":"Vs","t":225,"M":3.3e7},{"k":"Vs","t":250,"M":3e7},
{"k":"Vd","t":19,"M":5e3},{"k":"Vd","t":21,"M":1.2e4},{"k":"Vd","t":25,"M":8e4},{"k":"Vd","t":32,"M":5.5e5},{"k":"Vd","t":38,"M":1.8e6},{"k":"Vd","t":47,"M":4.5e6},{"k":"Vd","t":56,"M":7.9e6},{"k":"Vd","t":69,"M":1.15e7},{"k":"Vd","t":84,"M":1.45e7},{"k":"Vd","t":105,"M":1.6e7},{"k":"Vd","t":127,"M":1.7e7},{"k":"Vd","t":148,"M":1.6e7},{"k":"Vd","t":170,"M":1.3e7},{"k":"Vd","t":192,"M":1.05e7},{"k":"Vd","t":213,"M":8.9e6},{"k":"Vd","t":250,"M":7.2e6},
{"k":"Ve","t":39,"M":5e3},{"k":"Ve","t":43,"M":2e4},{"k":"Ve","t":50,"M":1.4e5},{"k":"Ve","t":58,"M":3.6e5},{"k":"Ve","t":70,"M":7e5},{"k":"Ve","t":94,"M":1.07e6},{"k":"Ve","t":115,"M":1.05e6},{"k":"Ve","t":137,"M":8.5e5},{"k":"Ve","t":160,"M":5.6e5},{"k":"Ve","t":170,"M":4.2e5},{"k":"Ve","t":192,"M":1.66e5},{"k":"Ve","t":213,"M":5.9e4},{"k":"Ve","t":222,"M":3.1e4},{"k":"Ve","t":229,"M":1e4},{"k":"Ve","t":231,"M":5e3},
{"k":"Cs","t":31,"M":5e3},{"k":"Cs","t":36,"M":2e4},{"k":"Cs","t":43,"M":4e4},{"k":"Cs","t":47,"M":4e4},{"k":"Cs","t":50,"M":7.8e4},{"k":"Cs","t":57,"M":8.1e4},{"k":"Cs","t":63,"M":8.9e4},{"k":"Cs","t":70,"M":8.1e4},{"k":"Cs","t":79,"M":7.8e4},{"k":"Cs","t":85,"M":3.1e4},{"k":"Cs","t":94,"M":2.6e4},{"k":"Cs","t":97,"M":3.3e4},{"k":"Cs","t":103,"M":3.2e4},{"k":"Cs","t":106,"M":2e4},{"k":"Cs","t":114,"M":3e4},{"k":"Cs","t":118,"M":4.5e4},{"k":"Cs","t":122,"M":6.2e4},{"k":"Cs","t":133,"M":6.8e4},{"k":"Cs","t":137,"M":8.7e4},{"k":"Cs","t":141,"M":5.9e4},{"k":"Cs","t":149,"M":7.2e4},{"k":"Cs","t":153,"M":4.7e4},{"k":"Cs","t":157,"M":8.9e4},{"k":"Cs","t":160,"M":5.3e4},{"k":"Cs","t":168,"M":2.1e5},{"k":"Cs","t":172,"M":2.24e5},{"k":"Cs","t":177,"M":3.4e5},{"k":"Cs","t":183,"M":3.4e5},{"k":"Cs","t":190,"M":2.9e5},{"k":"Cs","t":196,"M":2e5},{"k":"Cs","t":203,"M":8.7e4},{"k":"Cs","t":211,"M":4.9e4},{"k":"Cs","t":222,"M":4.5e4},{"k":"Cs","t":227,"M":1.16e5},{"k":"Cs","t":237,"M":9.8e4},{"k":"Cs","t":242,"M":1.4e5},{"k":"Cs","t":246,"M":1.3e5},{"k":"Cs","t":250,"M":1.7e5},
{"k":"Cd","t":180,"M":5e3},{"k":"Cd","t":183,"M":1.2e4},{"k":"Cd","t":188,"M":1.1e4},{"k":"Cd","t":190,"M":5e3}
],
"E":[
{"k":"Ns","t":139,"M":5e3},{"k":"Ns","t":140,"M":2e5},{"k":"Ns","t":141,"M":5e3},{"k":"Ns","t":153,"M":5e3},{"k":"Ns","t":155,"M":1.5e4},{"k":"Ns","t":157,"M":5e3},{"k":"Ns","t":170,"M":5e3},{"k":"Ns","t":172,"M":1.5e4},{"k":"Ns","t":174,"M":5e3},{"k":"Ns","t":183,"M":5e3},{"k":"Ns","t":184,"M":8.7e4},{"k":"Ns","t":187,"M":1.35e5},{"k":"Ns","t":191,"M":8.7e4},{"k":"Ns","t":203,"M":1.6e5},{"k":"Ns","t":209,"M":5.9e4},{"k":"Ns","t":215,"M":1.2e4},{"k":"Ns","t":219,"M":5e3},{"k":"Ns","t":221,"M":5e3},{"k":"Ns","t":222,"M":1.3e5},{"k":"Ns","t":226,"M":1.5e5},{"k":"Ns","t":232,"M":2.2e5},{"k":"Ns","t":237,"M":2.2e5},{"k":"Ns","t":243,"M":3.6e5},{"k":"Ns","t":247,"M":2.9e5},{"k":"Ns","t":250,"M":2.9e5},
{"k":"Ts","t":107,"M":5e3},{"k":"Ts","t":108,"M":1e4},{"k":"Ts","t":113,"M":3.5e4},{"k":"Ts","t":120,"M":7.6e4},{"k":"Ts","t":128,"M":1.3e5},{"k":"Ts","t":137,"M":2.1e5},{"k":"Ts","t":146,"M":3.6e5},{"k":"Ts","t":152,"M":7.4e5},{"k":"Ts","t":158,"M":7e5},{"k":"Ts","t":168,"M":1.02e6},{"k":"Ts","t":183,"M":1.41e6},{"k":"Ts","t":190,"M":1.2e6},{"k":"Ts","t":198,"M":1.1e6},{"k":"Ts","t":215,"M":1.05e6},{"k":"Ts","t":233,"M":1e6},{"k":"Ts","t":250,"M":8.5e5},
{"k":"Td","t":133,"M":1.2e4},{"k":"Td","t":146,"M":5.9e4},{"k":"Td","t":161,"M":9.8e4},{"k":"Td","t":172,"M":1.1e5},{"k":"Td","t":183,"M":5.9e4},{"k":"Td","t":194,"M":4e4},{"k":"Td","t":205,"M":6.6e4},{"k":"Td","t":215,"M":9.8e4},{"k":"Td","t":226,"M":1.35e5},{"k":"Td","t":238,"M":1.2e5},{"k":"Td","t":245,"M":1e5},
{"k":"Xs","t":94,"M":5e3},{"k":"Xs","t":96,"M":1.2e4},{"k":"Xs","t":98,"M":1.95e4},{"k":"Xs","t":107,"M":2.2e4},{"k":"Xs","t":113,"M":5.9e4},{"k":"Xs","t":120,"M":2.45e5},{"k":"Xs","t":123,"M":4.4e5},{"k":"Xs","t":126,"M":4e5},{"k":"Xs","t":133,"M":1.02e6},{"k":"Xs","t":142,"M":1.62e6},{"k":"Xs","t":150,"M":1.95e6},{"k":"Xs","t":161,"M":2.24e6},{"k":"Xs","t":176,"M":2.6e6},{"k":"Xs","t":187,"M":2.45e6},{"k":"Xs","t":205,"M":1.78e6},{"k":"Xs","t":216,"M":1.6e6},{"k":"Xs","t":226,"M":1.66e6},{"k":"Xs","t":237,"M":1.95e6},{"k":"Xs","t":250,"M":1.95e6},
{"k":"Xd","t":115,"M":1.1e4},{"k":"Xd","t":124,"M":5.9e4},{"k":"Xd","t":135,"M":3e5},{"k":"Xd","t":150,"M":5.8e5},{"k":"Xd","t":172,"M":8.5e5},{"k":"Xd","t":194,"M":6.9e5},{"k":"Xd","t":215,"M":5.8e5},{"k":"Xd","t":250,"M":4.4e5},
{"k":"Xe","t":133,"M":5e3},{"k":"Xe","t":137,"M":1e4},{"k":"Xe","t":144,"M":3.5e4},{"k":"Xe","t":155,"M":4.7e4},{"k":"Xe","t":165,"M":3.5e4},{"k":"Xe","t":176,"M":2.2e4},{"k":"Xe","t":183,"M":1.8e4},{"k":"Xe","t":189,"M":5e3},
{"k":"Ks","t":103,"M":5e3},{"k":"Ks","t":105,"M":1e4},{"k":"Ks","t":107,"M":1.7e4},{"k":"Ks","t":111,"M":2.9e4},{"k":"Ks","t":118,"M":2.3e4},{"k":"Ks","t":124,"M":7e4},{"k":"Ks","t":131,"M":7.6e4},{"k":"Ks","t":135,"M":1.12e5},{"k":"Ks","t":142,"M":3.16e5},{"k":"Ks","t":150,"M":5.4e5},{"k":"Ks","t":163,"M":6.3e5},{"k":"Ks","t":178,"M":7.4e5},{"k":"Ks","t":189,"M":6.9e5},{"k":"Ks","t":207,"M":1.1e6},{"k":"Ks","t":212,"M":7.9e5},{"k":"Ks","t":224,"M":8e5},{"k":"Ks","t":230,"M":7e5},{"k":"Ks","t":237,"M":6.5e5},{"k":"Ks","t":246,"M":9e5},{"k":"Ks","t":250,"M":9.5e5},
{"k":"Kd","t":139,"M":5.9e4},{"k":"Kd","t":150,"M":8e4},{"k":"Kd","t":159,"M":8.7e4},{"k":"Kd","t":168,"M":1.29e5},{"k":"Kd","t":178,"M":1.35e5},{"k":"Kd","t":189,"M":9.8e4},{"k":"Kd","t":200,"M":4.5e4},{"k":"Kd","t":210,"M":4.5e4},{"k":"Kd","t":226,"M":5.5e4},{"k":"Kd","t":240,"M":8.7e4},{"k":"Kd","t":250,"M":8e4},
{"k":"Ds","t":8,"M":5e3},{"k":"Ds","t":9,"M":1e4},{"k":"Ds","t":13,"M":1.66e5},{"k":"Ds","t":16,"M":1.2e6},{"k":"Ds","t":22,"M":8.3e6},{"k":"Ds","t":28,"M":2.04e7},{"k":"Ds","t":35,"M":3.2e7},{"k":"Ds","t":44,"M":5.1e7},{"k":"Ds","t":55,"M":6.6e7},{"k":"Ds","t":70,"M":8.3e7},{"k":"Ds","t":85,"M":9.1e7},{"k":"Ds","t":100,"M":9.1e7},{"k":"Ds","t":118,"M":8.3e7},{"k":"Ds","t":139,"M":7.6e7},{"k":"Ds","t":161,"M":6.6e7},{"k":"Ds","t":183,"M":5.6e7},{"k":"Ds","t":205,"M":4.8e7},{"k":"Ds","t":226,"M":4.2e7},{"k":"Ds","t":250,"M":3.6e7},
{"k":"Dd","t":15,"M":5e3},{"k":"Dd","t":16,"M":1.5e4},{"k":"Dd","t":17,"M":4e4},{"k":"Dd","t":22,"M":2.5e5},{"k":"Dd","t":28,"M":1.74e6},{"k":"Dd","t":35,"M":4.9e6},{"k":"Dd","t":44,"M":8.7e6},{"k":"Dd","t":55,"M":1.29e7},{"k":"Dd","t":70,"M":1.58e7},{"k":"Dd","t":91,"M":1.74e7},{"k":"Dd","t":113,"M":1.74e7},{"k":"Dd","t":139,"M":1.48e7},{"k":"Dd","t":172,"M":1.2e7},{"k":"Dd","t":205,"M":1e7},{"k":"Dd","t":250,"M":7.8e6},
{"k":"De","t":22,"M":5e3},{"k":"De","t":23,"M":1e4},{"k":"De","t":26,"M":3.5e4},{"k":"De","t":31,"M":1.45e5},{"k":"De","t":37,"M":4.2e5},{"k":"De","t":44,"M":7.9e5},{"k":"De","t":55,"M":1.74e6},{"k":"De","t":70,"M":2.75e6},{"k":"De","t":85,"M":3.16e6},{"k":"De","t":100,"M":3.2e6},{"k":"De","t":118,"M":2.9e6},{"k":"De","t":139,"M":1.95e6},{"k":"De","t":161,"M":1.02e6},{"k":"De","t":183,"M":4.7e5},{"k":"De","t":200,"M":1.9e5},{"k":"De","t":213,"M":7.6e4},{"k":"De","t":222,"M":3.1e4},{"k":"De","t":228,"M":1e4},{"k":"De","t":230,"M":5e3},
{"k":"Vs","t":35,"M":5e3},{"k":"Vs","t":36,"M":1e4},{"k":"Vs","t":39,"M":5.4e5},{"k":"Vs","t":44,"M":2.9e6},{"k":"Vs","t":50,"M":9.3e6},{"k":"Vs","t":57,"M":1.7e7},{"k":"Vs","t":68,"M":3e7},{"k":"Vs","t":81,"M":3.9e7},{"k":"Vs","t":91,"M":4.2e7},{"k":"Vs","t":107,"M":4.1e7},{"k":"Vs","t":128,"M":3.5e7},{"k":"Vs","t":150,"M":3e7},{"k":"Vs","t":172,"M":2.6e7},{"k":"Vs","t":194,"M":2.34e7},{"k":"Vs","t":215,"M":2.04e7},{"k":"Vs","t":250,"M":1.62e7},
{"k":"Vd","t":40,"M":5e3},{"k":"Vd","t":42,"M":3e4},{"k":"Vd","t":45,"M":2e5},{"k":"Vd","t":50,"M":1.17e6},{"k":"Vd","t":57,"M":3.3e6},{"k":"Vd","t":68,"M":6.3e6},{"k":"Vd","t":85,"M":9.3e6},{"k":"Vd","t":107,"M":1.02e7},{"k":"Vd","t":128,"M":9.8e6},{"k":"Vd","t":150,"M":8.5e6},{"k":"Vd","t":172,"M":7.2e6},{"k":"Vd","t":194,"M":5.8e6},{"k":"Vd","t":215,"M":4.3e6},{"k":"Vd","t":250,"M":2.75e6},
{"k":"Ve","t":50,"M":5e3},{"k":"Ve","t":51,"M":1e4},{"k":"Ve","t":57,"M":4e4},{"k":"Ve","t":63,"M":1.9e5},{"k":"Ve","t":72,"M":3.6e5},{"k":"Ve","t":85,"M":5.4e5},{"k":"Ve","t":96,"M":6.2e5},{"k":"Ve","t":107,"M":5.4e5},{"k":"Ve","t":120,"M":4.2e5},{"k":"Ve","t":139,"M":2.04e5},{"k":"Ve","t":157,"M":7.6e4},{"k":"Ve","t":170,"M":3.1e4},{"k":"Ve","t":178,"M":1e4},{"k":"Ve","t":180,"M":5e3},
{"k":"Cs","t":17,"M":5e3},{"k":"Cs","t":18,"M":1e4},{"k":"Cs","t":24,"M":3.1e4},{"k":"Cs","t":31,"M":6.6e4},{"k":"Cs","t":37,"M":1.45e5},{"k":"Cs","t":44,"M":2.3e5},{"k":"Cs","t":48,"M":3.6e5},{"k":"Cs","t":55,"M":1.17e6},{"k":"Cs","t":63,"M":3.3e6},{"k":"Cs","t":72,"M":4.9e6},{"k":"Cs","t":81,"M":6.2e6},{"k":"Cs","t":87,"M":6e6},{"k":"Cs","t":96,"M":4.6e6},{"k":"Cs","t":107,"M":3.55e6},{"k":"Cs","t":118,"M":2.75e6},{"k":"Cs","t":139,"M":1.95e6},{"k":"Cs","t":161,"M":1.32e6},{"k":"Cs","t":183,"M":1.1e6},{"k":"Cs","t":205,"M":9.3e5},{"k":"Cs","t":226,"M":9.1e5},{"k":"Cs","t":250,"M":1.17e6},
{"k":"Cd","t":20,"M":5e3},{"k":"Cd","t":28,"M":1.4e4},{"k":"Cd","t":41,"M":4e4},{"k":"Cd","t":52,"M":9.8e4},{"k":"Cd","t":63,"M":3.16e5},{"k":"Cd","t":74,"M":6.2e5},{"k":"Cd","t":85,"M":7.4e5},{"k":"Cd","t":96,"M":6.9e5},{"k":"Cd","t":107,"M":6e5},{"k":"Cd","t":128,"M":4.2e5},{"k":"Cd","t":146,"M":2.14e5},{"k":"Cd","t":161,"M":1.29e5},{"k":"Cd","t":172,"M":8e4},{"k":"Cd","t":183,"M":4e4},{"k":"Cd","t":194,"M":3.1e4},{"k":"Cd","t":205,"M":3.5e4},{"k":"Cd","t":226,"M":4.6e4},{"k":"Cd","t":240,"M":6e4},{"k":"Cd","t":250,"M":7.6e4},
{"k":"Ce","t":63,"M":5e3},{"k":"Ce","t":68,"M":1.1e4},{"k":"Ce","t":75,"M":1.5e4},{"k":"Ce","t":83,"M":1.6e4},{"k":"Ce","t":89,"M":1.2e4},{"k":"Ce","t":94,"M":5e3}
],
"F":[
{"k":"Ns","t":161,"M":5e3},{"k":"Ns","t":169,"M":1.8e4},{"k":"Ns","t":171.5,"M":1.45e5},{"k":"Ns","t":176,"M":5e3},{"k":"Ns","t":182,"M":4.6e4},{"k":"Ns","t":189,"M":5.9e4},{"k":"Ns","t":192,"M":3.7e4},{"k":"Ns","t":195,"M":3.7e4},{"k":"Ns","t":204,"M":8.7e4},{"k":"Ns","t":213,"M":5.5e4},{"k":"Ns","t":220,"M":4.5e4},{"k":"Ns","t":224,"M":4.3e4},{"k":"Ns","t":226,"M":3.2e4},{"k":"Ns","t":230,"M":1.38e5},{"k":"Ns","t":239,"M":7.6e4},{"k":"Ns","t":243,"M":3.1e4},{"k":"Ns","t":247,"M":9.8e4},{"k":"Ns","t":250,"M":9.5e4},
{"k":"Ts","t":14,"M":5e3},{"k":"Ts","t":18,"M":1.5e4},{"k":"Ts","t":24,"M":3.5e4},{"k":"Ts","t":32,"M":8e4},{"k":"Ts","t":39,"M":4.2e5},{"k":"Ts","t":48,"M":1.95e6},{"k":"Ts","t":56,"M":5.6e6},{"k":"Ts","t":67,"M":1.2e7},{"k":"Ts","t":82,"M":1.78e7},{"k":"Ts","t":100,"M":1.95e7},{"k":"Ts","t":126,"M":1.8e7},{"k":"Ts","t":148,"M":1.5e7},{"k":"Ts","t":169,"M":1.3e7},{"k":"Ts","t":191,"M":1.1e7},{"k":"Ts","t":213,"M":9.3e6},{"k":"Ts","t":250,"M":7e6},
{"k":"Td","t":28,"M":5e3},{"k":"Td","t":30,"M":1.4e4},{"k":"Td","t":39,"M":9e4},{"k":"Td","t":50,"M":6.2e5},{"k":"Td","t":61,"M":1.95e6},{"k":"Td","t":72,"M":3.8e6},{"k":"Td","t":87,"M":5.2e6},{"k":"Td","t":104,"M":5.8e6},{"k":"Td","t":126,"M":5.6e6},{"k":"Td","t":148,"M":4.9e6},{"k":"Td","t":169,"M":4.3e6},{"k":"Td","t":191,"M":3.8e6},{"k":"Td","t":213,"M":3.1e6},{"k":"Td","t":250,"M":1.95e6},
{"k":"Te","t":48,"M":5e3},{"k":"Te","t":54,"M":4.2e4},{"k":"Te","t":65,"M":3.16e5},{"k":"Te","t":78,"M":6.2e5},{"k":"Te","t":100,"M":8.9e5},{"k":"Te","t":115,"M":8.3e5},{"k":"Te","t":137,"M":4.7e5},{"k":"Te","t":158,"M":2.14e5},{"k":"Te","t":176,"M":7.6e4},{"k":"Te","t":187,"M":2.14e4},{"k":"Te","t":192,"M":5e3},
{"k":"Xs","t":14,"M":5e3},{"k":"Xs","t":18,"M":1.5e4},{"k":"Xs","t":24,"M":3.5e4},{"k":"Xs","t":32,"M":8e4},{"k":"Xs","t":39,"M":4e5},{"k":"Xs","t":48,"M":1.9e6},{"k":"Xs","t":56,"M":5.6e6},{"k":"Xs","t":67,"M":1.2e7},{"k":"Xs","t":82,"M":1.78e7},{"k":"Xs","t":100,"M":2e7},{"k":"Xs","t":126,"M":1.9e7},{"k":"Xs","t":148,"M":1.6e7},{"k":"Xs","t":169,"M":1.4e7},{"k":"Xs","t":191,"M":1.2e7},{"k":"Xs","t":213,"M":1.05e7},{"k":"Xs","t":250,"M":7.5e6},
{"k":"Xd","t":28,"M":5e3},{"k":"Xd","t":30,"M":1.4e4},{"k":"Xd","t":39,"M":9e4},{"k":"Xd","t":50,"M":6.2e5},{"k":"Xd","t":61,"M":1.95e6},{"k":"Xd","t":72,"M":3.8e6},{"k":"Xd","t":87,"M":5.2e6},{"k":"Xd","t":104,"M":5.8e6},{"k":"Xd","t":126,"M":5.6e6},{"k":"Xd","t":148,"M":4.9e6},{"k":"Xd","t":169,"M":4.3e6},{"k":"Xd","t":191,"M":3.7e6},{"k":"Xd","t":213,"M":3e6},{"k":"Xd","t":250,"M":1.6e6},
{"k":"Xe","t":52,"M":5e3},{"k":"Xe","t":61,"M":6.2e4},{"k":"Xe","t":72,"M":3.16e5},{"k":"Xe","t":82,"M":6.2e5},{"k":"Xe","t":100,"M":7.8e5},{"k":"Xe","t":115,"M":7.2e5},{"k":"Xe","t":137,"M":3.9e5},{"k":"Xe","t":158,"M":1.74e5},{"k":"Xe","t":176,"M":7.1e4},{"k":"Xe","t":187,"M":2.4e4},{"k":"Xe","t":192,"M":5e3},
{"k":"Ks","t":14,"M":5e3},{"k":"Ks","t":18,"M":2e4},{"k":"Ks","t":24,"M":3.5e4},{"k":"Ks","t":32,"M":6e4},{"k":"Ks","t":39,"M":4.2e5},{"k":"Ks","t":48,"M":1.95e6},{"k":"Ks","t":52,"M":3.1e6},{"k":"Ks","t":56,"M":3.5e6},{"k":"Ks","t":60,"M":4.5e6},{"k":"Ks","t":67,"M":1.2e7},{"k":"Ks","t":82,"M":1.78e7},{"k":"Ks","t":100,"M":2e7},{"k":"Ks","t":126,"M":1.95e7},{"k":"Ks","t":148,"M":1.6e7},{"k":"Ks","t":169,"M":1.38e7},{"k":"Ks","t":191,"M":1.2e7},{"k":"Ks","t":213,"M":1.07e7},{"k":"Ks","t":250,"M":8.3e6},
{"k":"Kd","t":26,"M":5e3},{"k":"Kd","t":30,"M":1.6e4},{"k":"Kd","t":39,"M":1.5e5},{"k":"Kd","t":50,"M":6.5e5},{"k":"Kd","t":61,"M":2e6},{"k":"Kd","t":72,"M":3.9e6},{"k":"Kd","t":87,"M":5.3e6},{"k":"Kd","t":104,"M":5.9e6},{"k":"Kd","t":126,"M":5.7e6},{"k":"Kd","t":148,"M":5e6},{"k":"Kd","t":169,"M":4.4e6},{"k":"Kd","t":191,"M":3.9e6},{"k":"Kd","t":213,"M":3.2e6},{"k":"Kd","t":250,"M":2.05e6},
{"k":"Ke","t":39,"M":5e3},{"k":"Ke","t":45,"M":2.9e4},{"k":"Ke","t":52,"M":1.29e5},{"k":"Ke","t":58,"M":1.26e5},{"k":"Ke","t":61,"M":2.45e5},{"k":"Ke","t":72,"M":5.4e5},{"k":"Ke","t":87,"M":7.4e5},{"k":"Ke","t":100,"M":8.5e5},{"k":"Ke","t":115,"M":7.6e5},{"k":"Ke","t":137,"M":4.7e5},{"k":"Ke","t":158,"M":1.9e5},{"k":"Ke","t":176,"M":6.6e4},{"k":"Ke","t":185,"M":3.5e4},{"k":"Ke","t":191,"M":2.1e4},{"k":"Ke","t":202,"M":1.3e4},{"k":"Ke","t":213,"M":1.6e4},{"k":"Ke","t":224,"M":2.1e4},{"k":"Ke","t":235,"M":1.3e4},{"k":"Ke","t":241,"M":1e4},{"k":"Ke","t":250,"M":1.1e4},
{"k":"Ds","t":8,"M":5e3},{"k":"Ds","t":8.5,"M":1e4},{"k":"Ds","t":10.7,"M":1.9e5},{"k":"Ds","t":16,"M":1.17e6},{"k":"Ds","t":22.6,"M":7.8e6},{"k":"Ds","t":30,"M":2.04e7},{"k":"Ds","t":39,"M":4.2e7},{"k":"Ds","t":50,"M":6.6e7},{"k":"Ds","t":67,"M":9.1e7},{"k":"Ds","t":82,"M":1.05e8},{"k":"Ds","t":104,"M":1.12e8},{"k":"Ds","t":126,"M":1.1e8},{"k":"Ds","t":148,"M":1e8},{"k":"Ds","t":169,"M":9.1e7},{"k":"Ds","t":202,"M":7.9e7},{"k":"Ds","t":250,"M":6.9e7},
{"k":"Dd","t":17,"M":5e3},{"k":"Dd","t":18,"M":1e4},{"k":"Dd","t":20,"M":1.66e5},{"k":"Dd","t":26,"M":1.74e6},{"k":"Dd","t":32,"M":6.3e6},{"k":"Dd","t":39,"M":1.38e7},{"k":"Dd","t":50,"M":2.5e7},{"k":"Dd","t":61,"M":3.2e7},{"k":"Dd","t":78,"M":3.9e7},{"k":"Dd","t":104,"M":3.9e7},{"k":"Dd","t":126,"M":3.55e7},{"k":"Dd","t":148,"M":3e7},{"k":"Dd","t":169,"M":2.6e7},{"k":"Dd","t":202,"M":2.04e7},{"k":"Dd","t":250,"M":1.48e7},
{"k":"De","t":26,"M":5e3},{"k":"De","t":30,"M":4e4},{"k":"De","t":39,"M":3.16e5},{"k":"De","t":48,"M":1.02e6},{"k":"De","t":56,"M":2.1e6},{"k":"De","t":67,"M":3.1e6},{"k":"De","t":82,"M":4.2e6},{"k":"De","t":100,"M":4.2e6},{"k":"De","t":115,"M":3.8e6},{"k":"De","t":137,"M":2.57e6},{"k":"De","t":158,"M":1.5e6},{"k":"De","t":180,"M":6.9e5},{"k":"De","t":202,"M":1.9e5},{"k":"De","t":217,"M":5.1e4},{"k":"De","t":226,"M":1.8e4},{"k":"De","t":230,"M":1e4},{"k":"De","t":232,"M":5e3},
{"k":"Vs","t":13,"M":5e3},{"k":"Vs","t":17,"M":2e4},{"k":"Vs","t":24,"M":5.9e4},{"k":"Vs","t":30,"M":3.16e5},{"k":"Vs","t":37,"M":1.5e6},{"k":"Vs","t":45,"M":4.9e6},{"k":"Vs","t":54,"M":1.07e7},{"k":"Vs","t":67,"M":1.78e7},{"k":"Vs","t":87,"M":2.34e7},{"k":"Vs","t":104,"M":2.4e7},{"k":"Vs","t":126,"M":2.3e7},{"k":"Vs","t":148,"M":1.95e7},{"k":"Vs","t":169,"M":1.7e7},{"k":"Vs","t":202,"M":1.38e7},{"k":"Vs","t":250,"M":1.05e7},
{"k":"Vd","t":24,"M":5e3},{"k":"Vd","t":30,"M":2e4},{"k":"Vd","t":39,"M":3.3e5},{"k":"Vd","t":50,"M":1.32e6},{"k":"Vd","t":61,"M":3.8e6},{"k":"Vd","t":74,"M":6.8e6},{"k":"Vd","t":89,"M":8.7e6},{"k":"Vd","t":104,"M":1e7},{"k":"Vd","t":126,"M":1.05e7},{"k":"Vd","t":148,"M":9.3e6},{"k":"Vd","t":169,"M":8.3e6},{"k":"Vd","t":191,"M":7.1e6},{"k":"Vd","t":213,"M":5.6e6},{"k":"Vd","t":250,"M":3.5e6},
{"k":"Ve","t":35,"M":5e3},{"k":"Ve","t":45,"M":3.5e4},{"k":"Ve","t":56,"M":3.16e5},{"k":"Ve","t":67,"M":8.5e5},{"k":"Ve","t":82,"M":1.5e6},{"k":"Ve","t":100,"M":1.86e6},{"k":"Ve","t":115,"M":1.6e6},{"k":"Ve","t":137,"M":1.02e6},{"k":"Ve","t":158,"M":4.7e5},{"k":"Ve","t":176,"M":1.9e5},{"k":"Ve","t":191,"M":5.1e4},{"k":"Ve","t":200,"M":1.7e4},{"k":"Ve","t":204,"M":5e3},
{"k":"Cs","t":17,"M":5e3},{"k":"Cs","t":21.5,"M":1.4e4},{"k":"Cs","t":28,"M":8.7e4},{"k":"Cs","t":35,"M":6.2e5},{"k":"Cs","t":41,"M":2.6e6},{"k":"Cs","t":50,"M":7.2e6},{"k":"Cs","t":61,"M":1.48e7},{"k":"Cs","t":71.5,"M":2.1e7},{"k":"Cs","t":87,"M":2.6e7},{"k":"Cs","t":104,"M":2.8e7},{"k":"Cs","t":126,"M":2.6e7},{"k":"Cs","t":148,"M":2.3e7},{"k":"Cs","t":169,"M":1.9e7},{"k":"Cs","t":191,"M":1.7e7},{"k":"Cs","t":213,"M":1.38e7},{"k":"Cs","t":250,"M":1.15e7},
{"k":"Cd","t":26,"M":5e3},{"k":"Cd","t":32,"M":2e4},{"k":"Cd","t":41,"M":2e5},{"k":"Cd","t":50,"M":8e5},{"k":"Cd","t":61,"M":3.3e6},{"k":"Cd","t":74,"M":6.3e6},{"k":"Cd","t":89,"M":8.5e6},{"k":"Cd","t":104,"M":9.5e6},{"k":"Cd","t":126,"M":1e7},{"k":"Cd","t":148,"M":9.3e6},{"k":"Cd","t":169,"M":8.1e6},{"k":"Cd","t":191,"M":6.9e6},{"k":"Cd","t":213,"M":5.5e6},{"k":"Cd","t":250,"M":3.6e6},
{"k":"Ce","t":39,"M":5e3},{"k":"Ce","t":50,"M":6.2e4},{"k":"Ce","t":61,"M":4.2e5},{"k":"Ce","t":72,"M":7.9e5},{"k":"Ce","t":87,"M":1.26e6},{"k":"Ce","t":100,"M":1.38e6},{"k":"Ce","t":115,"M":1.17e6},{"k":"Ce","t":137,"M":6.9e5},{"k":"Ce","t":158,"M":2.8e5},{"k":"Ce","t":176,"M":1e5},{"k":"Ce","t":187,"M":3.5e4},{"k":"Ce","t":193,"M":5e3}
]
},
"columns":3,"spacing":0,"bounds":"flush",
"resolve":{"scale":{"x":"independent","y":"independent","color":"independent","strokeDash":"independent"},"axis":{"x":"independent","y":"independent"},"legend":{"color":"independent","strokeDash":"independent"}},
"concat":[
{"width":384,"height":313,"title":{"text":"2000 M⊙ resolution","font":"DejaVu Serif","fontSize":18,"fontWeight":"normal","offset":5},
"layer":[
{"data":{"name":"A"},"mark":{"type":"line","strokeWidth":2.5,"clip":true},
"encoding":{
"x":{"field":"t","type":"quantitative","scale":{"domain":[0,250],"nice":false,"zero":false},"axis":{"orient":"bottom","values":[0,10,20,30,40,50,60,70,80,90,100,110,120,130,140,150,160,170,180,190,200,210,220,230,240,250],"labels":false,"title":null,"tickSize":{"condition":{"test":"datum.value % 50 === 0","value":-9},"value":-4.5},"tickWidth":{"condition":{"test":"datum.value % 50 === 0","value":1.5},"value":1}}},
"y":{"field":"M","type":"quantitative","scale":{"type":"log","domain":[1e6,8.17e9],"nice":false},"axis":{"orient":"left","values":[1e6,2e6,3e6,4e6,5e6,6e6,7e6,8e6,9e6,1e7,2e7,3e7,4e7,5e7,6e7,7e7,8e7,9e7,1e8,2e8,3e8,4e8,5e8,6e8,7e8,8e8,9e8,1e9,2e9,3e9,4e9,5e9,6e9,7e9,8e9],"labelExpr":"abs(log(datum.value)/LN10 - round(log(datum.value)/LN10)) < 0.01 ? '10' + ['⁰','¹','²','³','⁴','⁵','⁶','⁷','⁸','⁹'][round(log(datum.value)/LN10)] : ''","title":"M [M⊙]","tickSize":{"condition":{"test":"abs(log(datum.value)/LN10 - round(log(datum.value)/LN10)) < 0.01","value":-10},"value":-5},"tickWidth":{"condition":{"test":"abs(log(datum.value)/LN10 - round(log(datum.value)/LN10)) < 0.01","value":1.5},"value":1}}},
"color":{"field":"k","type":"nominal","scale":{"domain":["Ne","Ns","Nd","Te","Ts","Td","Xe","Xs","Xd","Ke","Ks","Kd","De","Ds","Dd","Ve","Vs","Vd","Ce","Cs","Cd"],"range":["#2c3e50","#2c3e50","#2c3e50","#f44336","#f44336","#f44336","#4caf50","#4caf50","#4caf50","#2196f3","#2196f3","#2196f3","#9c27b0","#9c27b0","#9c27b0","#ff80ab","#ff80ab","#ff80ab","#ffc107","#ffc107","#ffc107"]},"legend":null},
"strokeDash":{"field":"k","type":"nominal","scale":{"domain":["Ne","Ns","Nd","Te","Ts","Td","Xe","Xs","Xd","Ke","Ks","Kd","De","Ds","Dd","Ve","Vs","Vd","Ce","Cs","Cd"],"range":[[10,5],[1,0],[3,5],[10,5],[1,0],[3,5],[10,5],[1,0],[3,5],[10,5],[1,0],[3,5],[10,5],[1,0],[3,5],[10,5],[1,0],[3,5],[10,5],[1,0],[3,5]]},"legend":null}}},
{"data":{"name":"A"},"mark":{"type":"point","opacity":0},
"encoding":{
"x":{"field":"t","type":"quantitative","scale":{"domain":[0,250],"nice":false,"zero":false},"axis":{"orient":"top","values":[0,10,20,30,40,50,60,70,80,90,100,110,120,130,140,150,160,170,180,190,200,210,220,230,240,250],"labels":false,"title":null,"tickSize":{"condition":{"test":"datum.value % 50 === 0","value":-9},"value":-4.5},"tickWidth":{"condition":{"test":"datum.value % 50 === 0","value":1.5},"value":1}}},
"y":{"field":"M","type":"quantitative","scale":{"type":"log","domain":[1e6,8.17e9],"nice":false},"axis":{"orient":"right","values":[1e6,2e6,3e6,4e6,5e6,6e6,7e6,8e6,9e6,1e7,2e7,3e7,4e7,5e7,6e7,7e7,8e7,9e7,1e8,2e8,3e8,4e8,5e8,6e8,7e8,8e8,9e8,1e9,2e9,3e9,4e9,5e9,6e9,7e9,8e9],"labels":false,"title":null,"tickSize":{"condition":{"test":"abs(log(datum.value)/LN10 - round(log(datum.value)/LN10)) < 0.01","value":-10},"value":-5},"tickWidth":{"condition":{"test":"abs(log(datum.value)/LN10 - round(log(datum.value)/LN10)) < 0.01","value":1.5},"value":1}}}}},
{"data":{"values":[{"lab":"No Feedback"},{"lab":"Thermal"},{"lab":"Mixed"},{"lab":"Kinetic"}]},"mark":{"type":"line","strokeWidth":3},
"encoding":{"color":{"field":"lab","type":"nominal","scale":{"domain":["No Feedback","Thermal","Mixed","Kinetic"],"range":["#2c3e50","#f44336","#4caf50","#2196f3"]},"legend":{"orient":"none","legendX":18,"legendY":9,"title":null}}}}
],
"resolve":{"scale":{"color":"independent","strokeDash":"independent"},"axis":{"x":"independent","y":"independent"}}},
{"width":384,"height":313,"title":{"text":"200 M⊙ resolution","font":"DejaVu Serif","fontSize":18,"fontWeight":"normal","offset":5},
"layer":[
{"data":{"name":"B"},"mark":{"type":"line","strokeWidth":2.5,"clip":true},
"encoding":{
"x":{"field":"t","type":"quantitative","scale":{"domain":[0,250],"nice":false,"zero":false},"axis":{"orient":"bottom","values":[0,10,20,30,40,50,60,70,80,90,100,110,120,130,140,150,160,170,180,190,200,210,220,230,240,250],"labels":false,"title":null,"tickSize":{"condition":{"test":"datum.value % 50 === 0","value":-9},"value":-4.5},"tickWidth":{"condition":{"test":"datum.value % 50 === 0","value":1.5},"value":1}}},
"y":{"field":"M","type":"quantitative","scale":{"type":"log","domain":[1e6,8.17e9],"nice":false},"axis":{"orient":"left","values":[1e6,2e6,3e6,4e6,5e6,6e6,7e6,8e6,9e6,1e7,2e7,3e7,4e7,5e7,6e7,7e7,8e7,9e7,1e8,2e8,3e8,4e8,5e8,6e8,7e8,8e8,9e8,1e9,2e9,3e9,4e9,5e9,6e9,7e9,8e9],"labels":false,"title":null,"tickSize":{"condition":{"test":"abs(log(datum.value)/LN10 - round(log(datum.value)/LN10)) < 0.01","value":-10},"value":-5},"tickWidth":{"condition":{"test":"abs(log(datum.value)/LN10 - round(log(datum.value)/LN10)) < 0.01","value":1.5},"value":1}}},
"color":{"field":"k","type":"nominal","scale":{"domain":["Ne","Ns","Nd","Te","Ts","Td","Xe","Xs","Xd","Ke","Ks","Kd","De","Ds","Dd","Ve","Vs","Vd","Ce","Cs","Cd"],"range":["#2c3e50","#2c3e50","#2c3e50","#f44336","#f44336","#f44336","#4caf50","#4caf50","#4caf50","#2196f3","#2196f3","#2196f3","#9c27b0","#9c27b0","#9c27b0","#ff80ab","#ff80ab","#ff80ab","#ffc107","#ffc107","#ffc107"]},"legend":null},
"strokeDash":{"field":"k","type":"nominal","scale":{"domain":["Ne","Ns","Nd","Te","Ts","Td","Xe","Xs","Xd","Ke","Ks","Kd","De","Ds","Dd","Ve","Vs","Vd","Ce","Cs","Cd"],"range":[[10,5],[1,0],[3,5],[10,5],[1,0],[3,5],[10,5],[1,0],[3,5],[10,5],[1,0],[3,5],[10,5],[1,0],[3,5],[10,5],[1,0],[3,5],[10,5],[1,0],[3,5]]},"legend":null}}},
{"data":{"name":"B"},"mark":{"type":"point","opacity":0},
"encoding":{
"x":{"field":"t","type":"quantitative","scale":{"domain":[0,250],"nice":false,"zero":false},"axis":{"orient":"top","values":[0,10,20,30,40,50,60,70,80,90,100,110,120,130,140,150,160,170,180,190,200,210,220,230,240,250],"labels":false,"title":null,"tickSize":{"condition":{"test":"datum.value % 50 === 0","value":-9},"value":-4.5},"tickWidth":{"condition":{"test":"datum.value % 50 === 0","value":1.5},"value":1}}},
"y":{"field":"M","type":"quantitative","scale":{"type":"log","domain":[1e6,8.17e9],"nice":false},"axis":{"orient":"right","values":[1e6,2e6,3e6,4e6,5e6,6e6,7e6,8e6,9e6,1e7,2e7,3e7,4e7,5e7,6e7,7e7,8e7,9e7,1e8,2e8,3e8,4e8,5e8,6e8,7e8,8e8,9e8,1e9,2e9,3e9,4e9,5e9,6e9,7e9,8e9],"labels":false,"title":null,"tickSize":{"condition":{"test":"abs(log(datum.value)/LN10 - round(log(datum.value)/LN10)) < 0.01","value":-10},"value":-5},"tickWidth":{"condition":{"test":"abs(log(datum.value)/LN10 - round(log(datum.value)/LN10)) < 0.01","value":1.5},"value":1}}}}},
{"data":{"values":[{"lab":"Delayed|Cooling"},{"lab":"Delayed|Cooling (Variable tdiss)"},{"lab":"Mechanical"}]},"mark":{"type":"line","strokeWidth":3},
"encoding":{"color":{"field":"lab","type":"nominal","scale":{"domain":["Delayed|Cooling","Delayed|Cooling (Variable tdiss)","Mechanical"],"range":["#9c27b0","#ff80ab","#ffc107"]},"legend":{"orient":"none","legendX":18,"legendY":11,"title":null,"labelExpr":"split(datum.label, '|')","rowPadding":2.5}}}}
],
"resolve":{"scale":{"color":"independent","strokeDash":"independent"},"axis":{"x":"independent","y":"independent"}}},
{"width":384,"height":313,"title":{"text":"20 M⊙ resolution","font":"DejaVu Serif","fontSize":18,"fontWeight":"normal","offset":5},
"layer":[
{"data":{"name":"C"},"mark":{"type":"line","strokeWidth":2.5,"clip":true},
"encoding":{
"x":{"field":"t","type":"quantitative","scale":{"domain":[0,250],"nice":false,"zero":false},"axis":{"orient":"bottom","values":[0,10,20,30,40,50,60,70,80,90,100,110,120,130,140,150,160,170,180,190,200,210,220,230,240,250],"labels":false,"title":null,"tickSize":{"condition":{"test":"datum.value % 50 === 0","value":-9},"value":-4.5},"tickWidth":{"condition":{"test":"datum.value % 50 === 0","value":1.5},"value":1}}},
"y":{"field":"M","type":"quantitative","scale":{"type":"log","domain":[1e6,8.17e9],"nice":false},"axis":{"orient":"left","values":[1e6,2e6,3e6,4e6,5e6,6e6,7e6,8e6,9e6,1e7,2e7,3e7,4e7,5e7,6e7,7e7,8e7,9e7,1e8,2e8,3e8,4e8,5e8,6e8,7e8,8e8,9e8,1e9,2e9,3e9,4e9,5e9,6e9,7e9,8e9],"labels":false,"title":null,"tickSize":{"condition":{"test":"abs(log(datum.value)/LN10 - round(log(datum.value)/LN10)) < 0.01","value":-10},"value":-5},"tickWidth":{"condition":{"test":"abs(log(datum.value)/LN10 - round(log(datum.value)/LN10)) < 0.01","value":1.5},"value":1}}},
"color":{"field":"k","type":"nominal","scale":{"domain":["Ne","Ns","Nd","Te","Ts","Td","Xe","Xs","Xd","Ke","Ks","Kd","De","Ds","Dd","Ve","Vs","Vd","Ce","Cs","Cd"],"range":["#2c3e50","#2c3e50","#2c3e50","#f44336","#f44336","#f44336","#4caf50","#4caf50","#4caf50","#2196f3","#2196f3","#2196f3","#9c27b0","#9c27b0","#9c27b0","#ff80ab","#ff80ab","#ff80ab","#ffc107","#ffc107","#ffc107"]},"legend":null},
"strokeDash":{"field":"k","type":"nominal","scale":{"domain":["Ne","Ns","Nd","Te","Ts","Td","Xe","Xs","Xd","Ke","Ks","Kd","De","Ds","Dd","Ve","Vs","Vd","Ce","Cs","Cd"],"range":[[10,5],[1,0],[3,5],[10,5],[1,0],[3,5],[10,5],[1,0],[3,5],[10,5],[1,0],[3,5],[10,5],[1,0],[3,5],[10,5],[1,0],[3,5],[10,5],[1,0],[3,5]]},"legend":null}}},
{"data":{"name":"C"},"mark":{"type":"point","opacity":0},
"encoding":{
"x":{"field":"t","type":"quantitative","scale":{"domain":[0,250],"nice":false,"zero":false},"axis":{"orient":"top","values":[0,10,20,30,40,50,60,70,80,90,100,110,120,130,140,150,160,170,180,190,200,210,220,230,240,250],"labels":false,"title":null,"tickSize":{"condition":{"test":"datum.value % 50 === 0","value":-9},"value":-4.5},"tickWidth":{"condition":{"test":"datum.value % 50 === 0","value":1.5},"value":1}}},
"y":{"field":"M","type":"quantitative","scale":{"type":"log","domain":[1e6,8.17e9],"nice":false},"axis":{"orient":"right","values":[1e6,2e6,3e6,4e6,5e6,6e6,7e6,8e6,9e6,1e7,2e7,3e7,4e7,5e7,6e7,7e7,8e7,9e7,1e8,2e8,3e8,4e8,5e8,6e8,7e8,8e8,9e8,1e9,2e9,3e9,4e9,5e9,6e9,7e9,8e9],"labels":false,"title":null,"tickSize":{"condition":{"test":"abs(log(datum.value)/LN10 - round(log(datum.value)/LN10)) < 0.01","value":-10},"value":-5},"tickWidth":{"condition":{"test":"abs(log(datum.value)/LN10 - round(log(datum.value)/LN10)) < 0.01","value":1.5},"value":1}}}}},
{"data":{"values":[{"lab":"Total"},{"lab":"vᵣ > 5 km s⁻¹"},{"lab":"vᵣ < −5 km s⁻¹"}]},"mark":{"type":"line","strokeWidth":3,"color":"#888888"},
"encoding":{"strokeDash":{"field":"lab","type":"nominal","scale":{"domain":["Total","vᵣ > 5 km s⁻¹","vᵣ < −5 km s⁻¹"],"range":[[10,5],[1,0],[3,5]]},"legend":{"orient":"none","legendX":18,"legendY":9,"title":null,"symbolStrokeColor":"#888888","rowPadding":4}}}}
],
"resolve":{"scale":{"color":"independent","strokeDash":"independent"},"axis":{"x":"independent","y":"independent"}}},
{"width":384,"height":313,
"layer":[
{"data":{"name":"D"},"mark":{"type":"line","strokeWidth":2.5,"clip":true},
"encoding":{
"x":{"field":"t","type":"quantitative","scale":{"domain":[0,250],"nice":false,"zero":false},"axis":{"orient":"bottom","values":[0,10,20,30,40,50,60,70,80,90,100,110,120,130,140,150,160,170,180,190,200,210,220,230,240,250],"labelExpr":"datum.value % 50 === 0 && datum.value < 250 ? datum.label : ''","title":"t [Myr]","tickSize":{"condition":{"test":"datum.value % 50 === 0","value":-9},"value":-4.5},"tickWidth":{"condition":{"test":"datum.value % 50 === 0","value":1.5},"value":1}}},
"y":{"field":"M","type":"quantitative","scale":{"type":"log","domain":[1e4,2e9],"nice":false},"axis":{"orient":"left","values":[1e4,2e4,3e4,4e4,5e4,6e4,7e4,8e4,9e4,1e5,2e5,3e5,4e5,5e5,6e5,7e5,8e5,9e5,1e6,2e6,3e6,4e6,5e6,6e6,7e6,8e6,9e6,1e7,2e7,3e7,4e7,5e7,6e7,7e7,8e7,9e7,1e8,2e8,3e8,4e8,5e8,6e8,7e8,8e8,9e8,1e9,2e9],"labelExpr":"abs(log(datum.value)/LN10 - round(log(datum.value)/LN10)) < 0.01 ? '10' + ['⁰','¹','²','³','⁴','⁵','⁶','⁷','⁸','⁹'][round(log(datum.value)/LN10)] : ''","title":"M [M⊙]","tickSize":{"condition":{"test":"abs(log(datum.value)/LN10 - round(log(datum.value)/LN10)) < 0.01","value":-10},"value":-5},"tickWidth":{"condition":{"test":"abs(log(datum.value)/LN10 - round(log(datum.value)/LN10)) < 0.01","value":1.5},"value":1}}},
"color":{"field":"k","type":"nominal","scale":{"domain":["Ne","Ns","Nd","Te","Ts","Td","Xe","Xs","Xd","Ke","Ks","Kd","De","Ds","Dd","Ve","Vs","Vd","Ce","Cs","Cd"],"range":["#2c3e50","#2c3e50","#2c3e50","#f44336","#f44336","#f44336","#4caf50","#4caf50","#4caf50","#2196f3","#2196f3","#2196f3","#9c27b0","#9c27b0","#9c27b0","#ff80ab","#ff80ab","#ff80ab","#ffc107","#ffc107","#ffc107"]},"legend":null},
"strokeDash":{"field":"k","type":"nominal","scale":{"domain":["Ne","Ns","Nd","Te","Ts","Td","Xe","Xs","Xd","Ke","Ks","Kd","De","Ds","Dd","Ve","Vs","Vd","Ce","Cs","Cd"],"range":[[10,5],[1,0],[3,5],[10,5],[1,0],[3,5],[10,5],[1,0],[3,5],[10,5],[1,0],[3,5],[10,5],[1,0],[3,5],[10,5],[1,0],[3,5],[10,5],[1,0],[3,5]]},"legend":null}}},
{"data":{"name":"D"},"mark":{"type":"point","opacity":0},
"encoding":{
"x":{"field":"t","type":"quantitative","scale":{"domain":[0,250],"nice":false,"zero":false},"axis":{"orient":"top","values":[0,10,20,30,40,50,60,70,80,90,100,110,120,130,140,150,160,170,180,190,200,210,220,230,240,250],"labels":false,"title":null,"tickSize":{"condition":{"test":"datum.value % 50 === 0","value":-9},"value":-4.5},"tickWidth":{"condition":{"test":"datum.value % 50 === 0","value":1.5},"value":1}}},
"y":{"field":"M","type":"quantitative","scale":{"type":"log","domain":[1e4,2e9],"nice":false},"axis":{"orient":"right","values":[1e4,2e4,3e4,4e4,5e4,6e4,7e4,8e4,9e4,1e5,2e5,3e5,4e5,5e5,6e5,7e5,8e5,9e5,1e6,2e6,3e6,4e6,5e6,6e6,7e6,8e6,9e6,1e7,2e7,3e7,4e7,5e7,6e7,7e7,8e7,9e7,1e8,2e8,3e8,4e8,5e8,6e8,7e8,8e8,9e8,1e9,2e9],"labels":false,"title":null,"tickSize":{"condition":{"test":"abs(log(datum.value)/LN10 - round(log(datum.value)/LN10)) < 0.01","value":-10},"value":-5},"tickWidth":{"condition":{"test":"abs(log(datum.value)/LN10 - round(log(datum.value)/LN10)) < 0.01","value":1.5},"value":1}}}}},
{"data":{"values":[{"lab":"vᵣ > 50 km s⁻¹"}]},"mark":{"type":"line","strokeWidth":3,"color":"#888888"},
"encoding":{"strokeDash":{"field":"lab","type":"nominal","scale":{"domain":["vᵣ > 50 km s⁻¹"],"range":[[1,0]]},"legend":{"orient":"none","legendX":18,"legendY":9,"title":null,"symbolStrokeColor":"#888888"}}}}
],
"resolve":{"scale":{"color":"independent","strokeDash":"independent"},"axis":{"x":"independent","y":"independent"}}},
{"width":384,"height":313,
"layer":[
{"data":{"name":"E"},"mark":{"type":"line","strokeWidth":2.5,"clip":true},
"encoding":{
"x":{"field":"t","type":"quantitative","scale":{"domain":[0,250],"nice":false,"zero":false},"axis":{"orient":"bottom","values":[0,10,20,30,40,50,60,70,80,90,100,110,120,130,140,150,160,170,180,190,200,210,220,230,240,250],"labelExpr":"datum.value % 50 === 0 && datum.value < 250 ? datum.label : ''","title":"t [Myr]","tickSize":{"condition":{"test":"datum.value % 50 === 0","value":-9},"value":-4.5},"tickWidth":{"condition":{"test":"datum.value % 50 === 0","value":1.5},"value":1}}},
"y":{"field":"M","type":"quantitative","scale":{"type":"log","domain":[1e4,2e9],"nice":false},"axis":{"orient":"left","values":[1e4,2e4,3e4,4e4,5e4,6e4,7e4,8e4,9e4,1e5,2e5,3e5,4e5,5e5,6e5,7e5,8e5,9e5,1e6,2e6,3e6,4e6,5e6,6e6,7e6,8e6,9e6,1e7,2e7,3e7,4e7,5e7,6e7,7e7,8e7,9e7,1e8,2e8,3e8,4e8,5e8,6e8,7e8,8e8,9e8,1e9,2e9],"labels":false,"title":null,"tickSize":{"condition":{"test":"abs(log(datum.value)/LN10 - round(log(datum.value)/LN10)) < 0.01","value":-10},"value":-5},"tickWidth":{"condition":{"test":"abs(log(datum.value)/LN10 - round(log(datum.value)/LN10)) < 0.01","value":1.5},"value":1}}},
"color":{"field":"k","type":"nominal","scale":{"domain":["Ne","Ns","Nd","Te","Ts","Td","Xe","Xs","Xd","Ke","Ks","Kd","De","Ds","Dd","Ve","Vs","Vd","Ce","Cs","Cd"],"range":["#2c3e50","#2c3e50","#2c3e50","#f44336","#f44336","#f44336","#4caf50","#4caf50","#4caf50","#2196f3","#2196f3","#2196f3","#9c27b0","#9c27b0","#9c27b0","#ff80ab","#ff80ab","#ff80ab","#ffc107","#ffc107","#ffc107"]},"legend":null},
"strokeDash":{"field":"k","type":"nominal","scale":{"domain":["Ne","Ns","Nd","Te","Ts","Td","Xe","Xs","Xd","Ke","Ks","Kd","De","Ds","Dd","Ve","Vs","Vd","Ce","Cs","Cd"],"range":[[10,5],[1,0],[3,5],[10,5],[1,0],[3,5],[10,5],[1,0],[3,5],[10,5],[1,0],[3,5],[10,5],[1,0],[3,5],[10,5],[1,0],[3,5],[10,5],[1,0],[3,5]]},"legend":null}}},
{"data":{"name":"E"},"mark":{"type":"point","opacity":0},
"encoding":{
"x":{"field":"t","type":"quantitative","scale":{"domain":[0,250],"nice":false,"zero":false},"axis":{"orient":"top","values":[0,10,20,30,40,50,60,70,80,90,100,110,120,130,140,150,160,170,180,190,200,210,220,230,240,250],"labels":false,"title":null,"tickSize":{"condition":{"test":"datum.value % 50 === 0","value":-9},"value":-4.5},"tickWidth":{"condition":{"test":"datum.value % 50 === 0","value":1.5},"value":1}}},
"y":{"field":"M","type":"quantitative","scale":{"type":"log","domain":[1e4,2e9],"nice":false},"axis":{"orient":"right","values":[1e4,2e4,3e4,4e4,5e4,6e4,7e4,8e4,9e4,1e5,2e5,3e5,4e5,5e5,6e5,7e5,8e5,9e5,1e6,2e6,3e6,4e6,5e6,6e6,7e6,8e6,9e6,1e7,2e7,3e7,4e7,5e7,6e7,7e7,8e7,9e7,1e8,2e8,3e8,4e8,5e8,6e8,7e8,8e8,9e8,1e9,2e9],"labels":false,"title":null,"tickSize":{"condition":{"test":"abs(log(datum.value)/LN10 - round(log(datum.value)/LN10)) < 0.01","value":-10},"value":-5},"tickWidth":{"condition":{"test":"abs(log(datum.value)/LN10 - round(log(datum.value)/LN10)) < 0.01","value":1.5},"value":1}}}}},
{"data":{"values":[{"lab":"vᵣ > 100 km s⁻¹"}]},"mark":{"type":"line","strokeWidth":3,"color":"#888888"},
"encoding":{"strokeDash":{"field":"lab","type":"nominal","scale":{"domain":["vᵣ > 100 km s⁻¹"],"range":[[3,5]]},"legend":{"orient":"none","legendX":18,"legendY":9,"title":null,"symbolStrokeColor":"#888888"}}}}
],
"resolve":{"scale":{"color":"independent","strokeDash":"independent"},"axis":{"x":"independent","y":"independent"}}},
{"width":384,"height":313,
"layer":[
{"data":{"name":"F"},"mark":{"type":"line","strokeWidth":2.5,"clip":true},
"encoding":{
"x":{"field":"t","type":"quantitative","scale":{"domain":[0,250],"nice":false,"zero":false},"axis":{"orient":"bottom","values":[0,10,20,30,40,50,60,70,80,90,100,110,120,130,140,150,160,170,180,190,200,210,220,230,240,250],"labelExpr":"datum.value % 50 === 0 ? datum.label : ''","title":"t [Myr]","tickSize":{"condition":{"test":"datum.value % 50 === 0","value":-9},"value":-4.5},"tickWidth":{"condition":{"test":"datum.value % 50 === 0","value":1.5},"value":1}}},
"y":{"field":"M","type":"quantitative","scale":{"type":"log","domain":[1e4,2e9],"nice":false},"axis":{"orient":"left","values":[1e4,2e4,3e4,4e4,5e4,6e4,7e4,8e4,9e4,1e5,2e5,3e5,4e5,5e5,6e5,7e5,8e5,9e5,1e6,2e6,3e6,4e6,5e6,6e6,7e6,8e6,9e6,1e7,2e7,3e7,4e7,5e7,6e7,7e7,8e7,9e7,1e8,2e8,3e8,4e8,5e8,6e8,7e8,8e8,9e8,1e9,2e9],"labels":false,"title":null,"tickSize":{"condition":{"test":"abs(log(datum.value)/LN10 - round(log(datum.value)/LN10)) < 0.01","value":-10},"value":-5},"tickWidth":{"condition":{"test":"abs(log(datum.value)/LN10 - round(log(datum.value)/LN10)) < 0.01","value":1.5},"value":1}}},
"color":{"field":"k","type":"nominal","scale":{"domain":["Ne","Ns","Nd","Te","Ts","Td","Xe","Xs","Xd","Ke","Ks","Kd","De","Ds","Dd","Ve","Vs","Vd","Ce","Cs","Cd"],"range":["#2c3e50","#2c3e50","#2c3e50","#f44336","#f44336","#f44336","#4caf50","#4caf50","#4caf50","#2196f3","#2196f3","#2196f3","#9c27b0","#9c27b0","#9c27b0","#ff80ab","#ff80ab","#ff80ab","#ffc107","#ffc107","#ffc107"]},"legend":null},
"strokeDash":{"field":"k","type":"nominal","scale":{"domain":["Ne","Ns","Nd","Te","Ts","Td","Xe","Xs","Xd","Ke","Ks","Kd","De","Ds","Dd","Ve","Vs","Vd","Ce","Cs","Cd"],"range":[[10,5],[1,0],[3,5],[10,5],[1,0],[3,5],[10,5],[1,0],[3,5],[10,5],[1,0],[3,5],[10,5],[1,0],[3,5],[10,5],[1,0],[3,5],[10,5],[1,0],[3,5]]},"legend":null}}},
{"data":{"name":"F"},"mark":{"type":"point","opacity":0},
"encoding":{
"x":{"field":"t","type":"quantitative","scale":{"domain":[0,250],"nice":false,"zero":false},"axis":{"orient":"top","values":[0,10,20,30,40,50,60,70,80,90,100,110,120,130,140,150,160,170,180,190,200,210,220,230,240,250],"labels":false,"title":null,"tickSize":{"condition":{"test":"datum.value % 50 === 0","value":-9},"value":-4.5},"tickWidth":{"condition":{"test":"datum.value % 50 === 0","value":1.5},"value":1}}},
"y":{"field":"M","type":"quantitative","scale":{"type":"log","domain":[1e4,2e9],"nice":false},"axis":{"orient":"right","values":[1e4,2e4,3e4,4e4,5e4,6e4,7e4,8e4,9e4,1e5,2e5,3e5,4e5,5e5,6e5,7e5,8e5,9e5,1e6,2e6,3e6,4e6,5e6,6e6,7e6,8e6,9e6,1e7,2e7,3e7,4e7,5e7,6e7,7e7,8e7,9e7,1e8,2e8,3e8,4e8,5e8,6e8,7e8,8e8,9e8,1e9,2e9],"labels":false,"title":null,"tickSize":{"condition":{"test":"abs(log(datum.value)/LN10 - round(log(datum.value)/LN10)) < 0.01","value":-10},"value":-5},"tickWidth":{"condition":{"test":"abs(log(datum.value)/LN10 - round(log(datum.value)/LN10)) < 0.01","value":1.5},"value":1}}}}},
{"data":{"values":[{"lab":"vᵣ > 250 km s⁻¹"}]},"mark":{"type":"line","strokeWidth":3,"color":"#888888"},
"encoding":{"strokeDash":{"field":"lab","type":"nominal","scale":{"domain":["vᵣ > 250 km s⁻¹"],"range":[[10,5]]},"legend":{"orient":"none","legendX":18,"legendY":9,"title":null,"symbolStrokeColor":"#888888"}}}}
],
"resolve":{"scale":{"color":"independent","strokeDash":"independent"},"axis":{"x":"independent","y":"independent"}}}
]
}
